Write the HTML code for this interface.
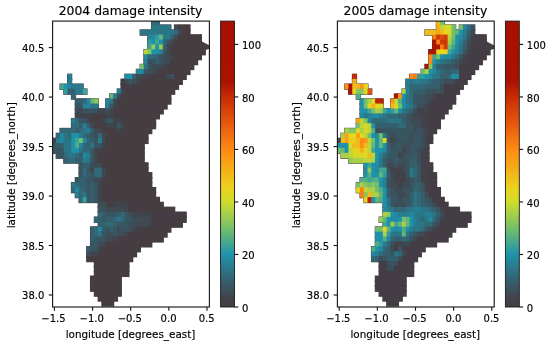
<!DOCTYPE html>
<html><head><meta charset="utf-8"><title>damage intensity</title>
<style>
html,body{margin:0;padding:0;background:#fff;}
body{width:550px;height:345px;overflow:hidden;}
svg{display:block;}
text{font-family:"DejaVu Sans","Liberation Sans",sans-serif;fill:#000;stroke:#000;stroke-width:0.16px;}
.tk{font-size:10px;}
.lb{font-size:10.4px;}
.tt{font-size:12.4px;}
</style></head><body>
<svg width="550" height="345" viewBox="0 0 550 345">
<defs>
<linearGradient id="cb" x1="0" y1="1" x2="0" y2="0"><stop offset="0.0000" stop-color="#453d42"/><stop offset="0.0275" stop-color="#434148"/><stop offset="0.0917" stop-color="#355f6d"/><stop offset="0.1835" stop-color="#1f93ab"/><stop offset="0.2752" stop-color="#74bf6c"/><stop offset="0.3670" stop-color="#cfdc2c"/><stop offset="0.4128" stop-color="#ead41e"/><stop offset="0.5505" stop-color="#ff8a12"/><stop offset="0.6422" stop-color="#e6580e"/><stop offset="0.7339" stop-color="#c82c04"/><stop offset="0.7890" stop-color="#aa1200"/><stop offset="1.0000" stop-color="#a61000"/></linearGradient>
<filter id="bl" x="-5%" y="-5%" width="110%" height="110%"><feGaussianBlur stdDeviation="0.6"/></filter>
</defs>
<rect width="550" height="345" fill="#fff"/>
<clipPath id="clip1"><rect x="52.60" y="21.10" width="156.80" height="285.90"/></clipPath>
<g clip-path="url(#clip1)" filter="url(#bl)">
<rect x="150.99" y="19.45" width="9.03" height="6.42" fill="#453d42"/>
<rect x="150.99" y="24.38" width="20.47" height="6.42" fill="#453d42"/>
<rect x="173.88" y="24.38" width="16.66" height="6.42" fill="#453d42"/>
<rect x="139.55" y="29.30" width="50.99" height="6.42" fill="#453d42"/>
<rect x="147.18" y="34.22" width="54.81" height="6.42" fill="#453d42"/>
<rect x="147.18" y="39.15" width="54.81" height="6.42" fill="#453d42"/>
<rect x="147.18" y="44.07" width="54.81" height="6.42" fill="#453d42"/>
<rect x="143.36" y="49.00" width="62.44" height="6.42" fill="#453d42"/>
<rect x="143.36" y="53.92" width="58.62" height="6.42" fill="#453d42"/>
<rect x="143.36" y="58.85" width="54.81" height="6.42" fill="#453d42"/>
<rect x="139.55" y="63.77" width="54.81" height="6.42" fill="#453d42"/>
<rect x="135.73" y="68.70" width="54.81" height="6.42" fill="#453d42"/>
<rect x="67.06" y="73.62" width="5.21" height="6.42" fill="#453d42"/>
<rect x="124.28" y="73.62" width="62.44" height="6.42" fill="#453d42"/>
<rect x="67.06" y="78.55" width="5.21" height="6.42" fill="#453d42"/>
<rect x="120.47" y="78.55" width="62.44" height="6.42" fill="#453d42"/>
<rect x="59.43" y="83.47" width="24.29" height="6.42" fill="#453d42"/>
<rect x="120.47" y="83.47" width="58.62" height="6.42" fill="#453d42"/>
<rect x="63.24" y="88.40" width="24.29" height="6.42" fill="#453d42"/>
<rect x="116.66" y="88.40" width="58.62" height="6.42" fill="#453d42"/>
<rect x="70.88" y="93.33" width="5.21" height="6.42" fill="#453d42"/>
<rect x="109.02" y="93.33" width="62.44" height="6.42" fill="#453d42"/>
<rect x="74.69" y="98.25" width="24.29" height="6.42" fill="#453d42"/>
<rect x="105.21" y="98.25" width="66.26" height="6.42" fill="#453d42"/>
<rect x="74.69" y="103.17" width="24.29" height="6.42" fill="#453d42"/>
<rect x="105.21" y="103.17" width="62.44" height="6.42" fill="#453d42"/>
<rect x="74.69" y="108.10" width="89.15" height="6.42" fill="#453d42"/>
<rect x="74.69" y="113.02" width="85.33" height="6.42" fill="#453d42"/>
<rect x="70.88" y="117.95" width="85.33" height="6.42" fill="#453d42"/>
<rect x="70.88" y="122.87" width="85.33" height="6.42" fill="#453d42"/>
<rect x="59.43" y="127.80" width="92.96" height="6.42" fill="#453d42"/>
<rect x="55.61" y="132.72" width="92.96" height="6.42" fill="#453d42"/>
<rect x="51.80" y="137.65" width="96.78" height="6.42" fill="#453d42"/>
<rect x="51.80" y="142.58" width="92.96" height="6.42" fill="#453d42"/>
<rect x="51.80" y="147.50" width="92.96" height="6.42" fill="#453d42"/>
<rect x="55.61" y="152.43" width="89.15" height="6.42" fill="#453d42"/>
<rect x="63.24" y="157.35" width="81.52" height="6.42" fill="#453d42"/>
<rect x="78.50" y="162.28" width="70.07" height="6.42" fill="#453d42"/>
<rect x="78.50" y="167.20" width="70.07" height="6.42" fill="#453d42"/>
<rect x="78.50" y="172.12" width="73.89" height="6.42" fill="#453d42"/>
<rect x="74.69" y="177.05" width="77.70" height="6.42" fill="#453d42"/>
<rect x="70.88" y="181.98" width="81.52" height="6.42" fill="#453d42"/>
<rect x="70.88" y="186.90" width="85.33" height="6.42" fill="#453d42"/>
<rect x="74.69" y="191.83" width="81.52" height="6.42" fill="#453d42"/>
<rect x="78.50" y="196.75" width="81.52" height="6.42" fill="#453d42"/>
<rect x="97.58" y="201.68" width="66.26" height="6.42" fill="#453d42"/>
<rect x="97.58" y="206.60" width="77.70" height="6.42" fill="#453d42"/>
<rect x="97.58" y="211.53" width="89.15" height="6.42" fill="#453d42"/>
<rect x="93.77" y="216.45" width="92.96" height="6.42" fill="#453d42"/>
<rect x="97.58" y="221.38" width="85.33" height="6.42" fill="#453d42"/>
<rect x="89.95" y="226.30" width="81.52" height="6.42" fill="#453d42"/>
<rect x="89.95" y="231.23" width="77.70" height="6.42" fill="#453d42"/>
<rect x="89.95" y="236.15" width="73.89" height="6.42" fill="#453d42"/>
<rect x="89.95" y="241.08" width="62.44" height="6.42" fill="#453d42"/>
<rect x="86.14" y="246.00" width="54.81" height="6.42" fill="#453d42"/>
<rect x="86.14" y="250.93" width="50.99" height="6.42" fill="#453d42"/>
<rect x="86.14" y="255.85" width="47.18" height="6.42" fill="#453d42"/>
<rect x="93.77" y="260.77" width="35.73" height="6.42" fill="#453d42"/>
<rect x="93.77" y="265.70" width="35.73" height="6.42" fill="#453d42"/>
<rect x="93.77" y="270.62" width="35.73" height="6.42" fill="#453d42"/>
<rect x="89.95" y="275.55" width="31.92" height="6.42" fill="#453d42"/>
<rect x="89.95" y="280.47" width="31.92" height="6.42" fill="#453d42"/>
<rect x="89.95" y="285.40" width="31.92" height="6.42" fill="#453d42"/>
<rect x="93.77" y="290.32" width="28.10" height="6.42" fill="#453d42"/>
<rect x="97.58" y="295.25" width="20.47" height="6.42" fill="#453d42"/>
<rect x="101.39" y="300.17" width="12.85" height="6.42" fill="#453d42"/>
<polygon points="201.00,41.0 209.60,45.4 209.60,48.8 205.10,50.2 201.00,50.2" fill="#453d42"/>
<rect x="151.39" y="19.85" width="8.23" height="5.52" fill="#316979"/>
<rect x="151.39" y="24.77" width="19.68" height="5.52" fill="#2c7486"/>
<rect x="174.28" y="24.77" width="4.42" height="5.52" fill="#3f4a53"/>
<rect x="178.09" y="24.77" width="12.04" height="5.52" fill="#453d42"/>
<rect x="139.94" y="29.70" width="34.94" height="5.52" fill="#2c7486"/>
<rect x="174.28" y="29.70" width="4.42" height="5.52" fill="#316979"/>
<rect x="178.09" y="29.70" width="4.42" height="5.52" fill="#3f4a53"/>
<rect x="181.91" y="29.70" width="8.23" height="5.52" fill="#453d42"/>
<rect x="147.57" y="34.62" width="4.42" height="5.52" fill="#268398"/>
<rect x="151.39" y="34.62" width="4.42" height="5.52" fill="#23899f"/>
<rect x="155.20" y="34.62" width="4.42" height="5.52" fill="#309c9e"/>
<rect x="159.02" y="34.62" width="4.42" height="5.52" fill="#63b679"/>
<rect x="162.83" y="34.62" width="8.23" height="5.52" fill="#2a798c"/>
<rect x="170.46" y="34.62" width="4.42" height="5.52" fill="#355f6d"/>
<rect x="174.28" y="34.62" width="4.42" height="5.52" fill="#3f4a53"/>
<rect x="178.09" y="34.62" width="23.49" height="5.52" fill="#453d42"/>
<rect x="147.57" y="39.55" width="4.42" height="5.52" fill="#309c9e"/>
<rect x="151.39" y="39.55" width="4.42" height="5.52" fill="#1f93ab"/>
<rect x="155.20" y="39.55" width="4.42" height="5.52" fill="#41a592"/>
<rect x="159.02" y="39.55" width="4.42" height="5.52" fill="#1f93ab"/>
<rect x="162.83" y="39.55" width="4.42" height="5.52" fill="#316979"/>
<rect x="166.65" y="39.55" width="4.42" height="5.52" fill="#395662"/>
<rect x="170.46" y="39.55" width="4.42" height="5.52" fill="#3f4a53"/>
<rect x="174.28" y="39.55" width="27.30" height="5.52" fill="#453d42"/>
<rect x="147.57" y="44.48" width="4.42" height="5.52" fill="#41a592"/>
<rect x="151.39" y="44.48" width="4.42" height="5.52" fill="#98cb52"/>
<rect x="155.20" y="44.48" width="4.42" height="5.52" fill="#1f93ab"/>
<rect x="159.02" y="44.48" width="4.42" height="5.52" fill="#98cb52"/>
<rect x="162.83" y="44.48" width="4.42" height="5.52" fill="#355f6d"/>
<rect x="166.65" y="44.48" width="4.42" height="5.52" fill="#3f4a53"/>
<rect x="170.46" y="44.48" width="31.12" height="5.52" fill="#453d42"/>
<rect x="143.76" y="49.40" width="4.42" height="5.52" fill="#bdd639"/>
<rect x="147.57" y="49.40" width="4.42" height="5.52" fill="#86c55f"/>
<rect x="151.39" y="49.40" width="8.23" height="5.52" fill="#1f93ab"/>
<rect x="159.02" y="49.40" width="4.42" height="5.52" fill="#287e92"/>
<rect x="162.83" y="49.40" width="4.42" height="5.52" fill="#395662"/>
<rect x="166.65" y="49.40" width="4.42" height="5.52" fill="#41454d"/>
<rect x="170.46" y="49.40" width="34.94" height="5.52" fill="#453d42"/>
<rect x="143.76" y="54.33" width="4.42" height="5.52" fill="#23899f"/>
<rect x="147.57" y="54.33" width="8.23" height="5.52" fill="#316979"/>
<rect x="155.20" y="54.33" width="4.42" height="5.52" fill="#355f6d"/>
<rect x="159.02" y="54.33" width="4.42" height="5.52" fill="#395662"/>
<rect x="162.83" y="54.33" width="4.42" height="5.52" fill="#3d4e58"/>
<rect x="166.65" y="54.33" width="4.42" height="5.52" fill="#3f4a53"/>
<rect x="170.46" y="54.33" width="4.42" height="5.52" fill="#41454d"/>
<rect x="174.28" y="54.33" width="27.30" height="5.52" fill="#453d42"/>
<rect x="143.76" y="59.25" width="4.42" height="5.52" fill="#268398"/>
<rect x="147.57" y="59.25" width="4.42" height="5.52" fill="#3d4e58"/>
<rect x="151.39" y="59.25" width="4.42" height="5.52" fill="#395662"/>
<rect x="155.20" y="59.25" width="4.42" height="5.52" fill="#355f6d"/>
<rect x="159.02" y="59.25" width="4.42" height="5.52" fill="#395662"/>
<rect x="162.83" y="59.25" width="4.42" height="5.52" fill="#3d4e58"/>
<rect x="166.65" y="59.25" width="4.42" height="5.52" fill="#3f4a53"/>
<rect x="170.46" y="59.25" width="27.30" height="5.52" fill="#453d42"/>
<rect x="139.94" y="64.17" width="4.42" height="5.52" fill="#74bf6c"/>
<rect x="143.76" y="64.17" width="4.42" height="5.52" fill="#2c7486"/>
<rect x="147.57" y="64.17" width="4.42" height="5.52" fill="#395662"/>
<rect x="151.39" y="64.17" width="8.23" height="5.52" fill="#3d4e58"/>
<rect x="159.02" y="64.17" width="4.42" height="5.52" fill="#3f4a53"/>
<rect x="162.83" y="64.17" width="4.42" height="5.52" fill="#41454d"/>
<rect x="166.65" y="64.17" width="27.30" height="5.52" fill="#453d42"/>
<rect x="136.13" y="69.10" width="8.23" height="5.52" fill="#23899f"/>
<rect x="143.76" y="69.10" width="4.42" height="5.52" fill="#395662"/>
<rect x="147.57" y="69.10" width="4.42" height="5.52" fill="#3d4e58"/>
<rect x="151.39" y="69.10" width="4.42" height="5.52" fill="#3f4a53"/>
<rect x="155.20" y="69.10" width="4.42" height="5.52" fill="#41454d"/>
<rect x="159.02" y="69.10" width="31.12" height="5.52" fill="#453d42"/>
<rect x="67.46" y="74.02" width="4.42" height="5.52" fill="#287e92"/>
<rect x="124.69" y="74.02" width="8.23" height="5.52" fill="#1f93ab"/>
<rect x="132.31" y="74.02" width="4.42" height="5.52" fill="#355f6d"/>
<rect x="136.13" y="74.02" width="4.42" height="5.52" fill="#3d4e58"/>
<rect x="139.94" y="74.02" width="4.42" height="5.52" fill="#3f4a53"/>
<rect x="143.76" y="74.02" width="4.42" height="5.52" fill="#41454d"/>
<rect x="147.57" y="74.02" width="19.68" height="5.52" fill="#453d42"/>
<rect x="166.65" y="74.02" width="4.42" height="5.52" fill="#3d4e58"/>
<rect x="170.46" y="74.02" width="4.42" height="5.52" fill="#3b525d"/>
<rect x="174.28" y="74.02" width="12.04" height="5.52" fill="#453d42"/>
<rect x="67.46" y="78.95" width="4.42" height="5.52" fill="#287e92"/>
<rect x="120.87" y="78.95" width="4.42" height="5.52" fill="#453d42"/>
<rect x="124.69" y="78.95" width="4.42" height="5.52" fill="#3d4e58"/>
<rect x="128.50" y="78.95" width="4.42" height="5.52" fill="#395662"/>
<rect x="132.31" y="78.95" width="4.42" height="5.52" fill="#3d4e58"/>
<rect x="136.13" y="78.95" width="4.42" height="5.52" fill="#41454d"/>
<rect x="139.94" y="78.95" width="42.56" height="5.52" fill="#453d42"/>
<rect x="59.83" y="83.87" width="4.42" height="5.52" fill="#41a592"/>
<rect x="63.65" y="83.87" width="4.42" height="5.52" fill="#1f93ab"/>
<rect x="67.46" y="83.87" width="4.42" height="5.52" fill="#268398"/>
<rect x="71.28" y="83.87" width="12.04" height="5.52" fill="#2a798c"/>
<rect x="120.87" y="83.87" width="8.23" height="5.52" fill="#453d42"/>
<rect x="128.50" y="83.87" width="4.42" height="5.52" fill="#41454d"/>
<rect x="132.31" y="83.87" width="46.38" height="5.52" fill="#453d42"/>
<rect x="63.65" y="88.80" width="4.42" height="5.52" fill="#309c9e"/>
<rect x="67.46" y="88.80" width="8.23" height="5.52" fill="#355f6d"/>
<rect x="75.09" y="88.80" width="8.23" height="5.52" fill="#2a798c"/>
<rect x="82.72" y="88.80" width="4.42" height="5.52" fill="#41a592"/>
<rect x="117.06" y="88.80" width="4.42" height="5.52" fill="#287e92"/>
<rect x="120.87" y="88.80" width="4.42" height="5.52" fill="#3f4a53"/>
<rect x="124.69" y="88.80" width="50.20" height="5.52" fill="#453d42"/>
<rect x="71.28" y="93.73" width="4.42" height="5.52" fill="#316979"/>
<rect x="109.42" y="93.73" width="4.42" height="5.52" fill="#63b679"/>
<rect x="113.24" y="93.73" width="4.42" height="5.52" fill="#2a798c"/>
<rect x="117.06" y="93.73" width="4.42" height="5.52" fill="#3f4a53"/>
<rect x="120.87" y="93.73" width="50.20" height="5.52" fill="#453d42"/>
<rect x="75.09" y="98.65" width="8.23" height="5.52" fill="#355f6d"/>
<rect x="82.72" y="98.65" width="4.42" height="5.52" fill="#316979"/>
<rect x="86.54" y="98.65" width="4.42" height="5.52" fill="#23899f"/>
<rect x="90.35" y="98.65" width="4.42" height="5.52" fill="#63b679"/>
<rect x="94.17" y="98.65" width="4.42" height="5.52" fill="#8fc859"/>
<rect x="105.61" y="98.65" width="4.42" height="5.52" fill="#268398"/>
<rect x="109.42" y="98.65" width="4.42" height="5.52" fill="#2c7486"/>
<rect x="113.24" y="98.65" width="4.42" height="5.52" fill="#3f4a53"/>
<rect x="117.06" y="98.65" width="54.01" height="5.52" fill="#453d42"/>
<rect x="75.09" y="103.58" width="8.23" height="5.52" fill="#395662"/>
<rect x="82.72" y="103.58" width="8.23" height="5.52" fill="#268398"/>
<rect x="90.35" y="103.58" width="8.23" height="5.52" fill="#2c7486"/>
<rect x="105.61" y="103.58" width="4.42" height="5.52" fill="#287e92"/>
<rect x="109.42" y="103.58" width="4.42" height="5.52" fill="#395662"/>
<rect x="113.24" y="103.58" width="4.42" height="5.52" fill="#41454d"/>
<rect x="117.06" y="103.58" width="50.20" height="5.52" fill="#453d42"/>
<rect x="75.09" y="108.50" width="8.23" height="5.52" fill="#3f4a53"/>
<rect x="82.72" y="108.50" width="15.86" height="5.52" fill="#3b525d"/>
<rect x="97.98" y="108.50" width="8.23" height="5.52" fill="#41454d"/>
<rect x="105.61" y="108.50" width="4.42" height="5.52" fill="#3f4a53"/>
<rect x="109.42" y="108.50" width="4.42" height="5.52" fill="#41454d"/>
<rect x="113.24" y="108.50" width="50.20" height="5.52" fill="#453d42"/>
<rect x="75.09" y="113.42" width="19.68" height="5.52" fill="#434148"/>
<rect x="94.17" y="113.42" width="12.04" height="5.52" fill="#453d42"/>
<rect x="105.61" y="113.42" width="8.23" height="5.52" fill="#41454d"/>
<rect x="113.24" y="113.42" width="46.38" height="5.52" fill="#453d42"/>
<rect x="71.28" y="118.35" width="4.42" height="5.52" fill="#287e92"/>
<rect x="75.09" y="118.35" width="4.42" height="5.52" fill="#316979"/>
<rect x="78.91" y="118.35" width="8.23" height="5.52" fill="#395662"/>
<rect x="86.54" y="118.35" width="4.42" height="5.52" fill="#3f4a53"/>
<rect x="90.35" y="118.35" width="12.04" height="5.52" fill="#453d42"/>
<rect x="101.80" y="118.35" width="4.42" height="5.52" fill="#41454d"/>
<rect x="105.61" y="118.35" width="8.23" height="5.52" fill="#395662"/>
<rect x="113.24" y="118.35" width="8.23" height="5.52" fill="#41454d"/>
<rect x="120.87" y="118.35" width="34.94" height="5.52" fill="#453d42"/>
<rect x="71.28" y="123.27" width="8.23" height="5.52" fill="#316979"/>
<rect x="78.91" y="123.27" width="4.42" height="5.52" fill="#355f6d"/>
<rect x="82.72" y="123.27" width="4.42" height="5.52" fill="#287e92"/>
<rect x="86.54" y="123.27" width="4.42" height="5.52" fill="#355f6d"/>
<rect x="90.35" y="123.27" width="4.42" height="5.52" fill="#3f4a53"/>
<rect x="94.17" y="123.27" width="12.04" height="5.52" fill="#453d42"/>
<rect x="105.61" y="123.27" width="12.04" height="5.52" fill="#41454d"/>
<rect x="117.06" y="123.27" width="4.42" height="5.52" fill="#395662"/>
<rect x="120.87" y="123.27" width="4.42" height="5.52" fill="#41454d"/>
<rect x="124.69" y="123.27" width="31.12" height="5.52" fill="#453d42"/>
<rect x="59.83" y="128.20" width="15.86" height="5.52" fill="#316979"/>
<rect x="75.09" y="128.20" width="4.42" height="5.52" fill="#355f6d"/>
<rect x="78.91" y="128.20" width="4.42" height="5.52" fill="#316979"/>
<rect x="82.72" y="128.20" width="4.42" height="5.52" fill="#2c7486"/>
<rect x="86.54" y="128.20" width="4.42" height="5.52" fill="#287e92"/>
<rect x="90.35" y="128.20" width="4.42" height="5.52" fill="#355f6d"/>
<rect x="94.17" y="128.20" width="8.23" height="5.52" fill="#3f4a53"/>
<rect x="101.80" y="128.20" width="15.86" height="5.52" fill="#453d42"/>
<rect x="117.06" y="128.20" width="4.42" height="5.52" fill="#41454d"/>
<rect x="120.87" y="128.20" width="31.12" height="5.52" fill="#453d42"/>
<rect x="56.02" y="133.12" width="4.42" height="5.52" fill="#316979"/>
<rect x="59.83" y="133.12" width="4.42" height="5.52" fill="#23899f"/>
<rect x="63.65" y="133.12" width="4.42" height="5.52" fill="#2c7486"/>
<rect x="67.46" y="133.12" width="4.42" height="5.52" fill="#316979"/>
<rect x="71.28" y="133.12" width="8.23" height="5.52" fill="#1f93ab"/>
<rect x="78.91" y="133.12" width="4.42" height="5.52" fill="#287e92"/>
<rect x="82.72" y="133.12" width="4.42" height="5.52" fill="#316979"/>
<rect x="86.54" y="133.12" width="4.42" height="5.52" fill="#355f6d"/>
<rect x="90.35" y="133.12" width="4.42" height="5.52" fill="#395662"/>
<rect x="94.17" y="133.12" width="4.42" height="5.52" fill="#3d4e58"/>
<rect x="97.98" y="133.12" width="4.42" height="5.52" fill="#316979"/>
<rect x="101.80" y="133.12" width="4.42" height="5.52" fill="#3f4a53"/>
<rect x="105.61" y="133.12" width="42.56" height="5.52" fill="#453d42"/>
<rect x="52.20" y="138.05" width="4.42" height="5.52" fill="#41454d"/>
<rect x="56.02" y="138.05" width="4.42" height="5.52" fill="#287e92"/>
<rect x="59.83" y="138.05" width="4.42" height="5.52" fill="#23899f"/>
<rect x="63.65" y="138.05" width="8.23" height="5.52" fill="#2c7486"/>
<rect x="71.28" y="138.05" width="4.42" height="5.52" fill="#1f93ab"/>
<rect x="75.09" y="138.05" width="4.42" height="5.52" fill="#41a592"/>
<rect x="78.91" y="138.05" width="4.42" height="5.52" fill="#74bf6c"/>
<rect x="82.72" y="138.05" width="4.42" height="5.52" fill="#23899f"/>
<rect x="86.54" y="138.05" width="4.42" height="5.52" fill="#316979"/>
<rect x="90.35" y="138.05" width="4.42" height="5.52" fill="#355f6d"/>
<rect x="94.17" y="138.05" width="4.42" height="5.52" fill="#395662"/>
<rect x="97.98" y="138.05" width="4.42" height="5.52" fill="#287e92"/>
<rect x="101.80" y="138.05" width="4.42" height="5.52" fill="#3f4a53"/>
<rect x="105.61" y="138.05" width="42.56" height="5.52" fill="#453d42"/>
<rect x="52.20" y="142.97" width="4.42" height="5.52" fill="#395662"/>
<rect x="56.02" y="142.97" width="8.23" height="5.52" fill="#355f6d"/>
<rect x="63.65" y="142.97" width="8.23" height="5.52" fill="#2c7486"/>
<rect x="71.28" y="142.97" width="4.42" height="5.52" fill="#1f93ab"/>
<rect x="75.09" y="142.97" width="4.42" height="5.52" fill="#52ad85"/>
<rect x="78.91" y="142.97" width="4.42" height="5.52" fill="#23899f"/>
<rect x="82.72" y="142.97" width="4.42" height="5.52" fill="#316979"/>
<rect x="86.54" y="142.97" width="4.42" height="5.52" fill="#355f6d"/>
<rect x="90.35" y="142.97" width="4.42" height="5.52" fill="#2c7486"/>
<rect x="94.17" y="142.97" width="8.23" height="5.52" fill="#395662"/>
<rect x="101.80" y="142.97" width="4.42" height="5.52" fill="#41454d"/>
<rect x="105.61" y="142.97" width="38.75" height="5.52" fill="#453d42"/>
<rect x="52.20" y="147.90" width="12.04" height="5.52" fill="#395662"/>
<rect x="63.65" y="147.90" width="8.23" height="5.52" fill="#2c7486"/>
<rect x="71.28" y="147.90" width="8.23" height="5.52" fill="#1f93ab"/>
<rect x="78.91" y="147.90" width="4.42" height="5.52" fill="#2c7486"/>
<rect x="82.72" y="147.90" width="8.23" height="5.52" fill="#316979"/>
<rect x="90.35" y="147.90" width="4.42" height="5.52" fill="#395662"/>
<rect x="94.17" y="147.90" width="8.23" height="5.52" fill="#41454d"/>
<rect x="101.80" y="147.90" width="42.56" height="5.52" fill="#453d42"/>
<rect x="56.02" y="152.82" width="8.23" height="5.52" fill="#395662"/>
<rect x="63.65" y="152.82" width="4.42" height="5.52" fill="#316979"/>
<rect x="67.46" y="152.82" width="8.23" height="5.52" fill="#2c7486"/>
<rect x="75.09" y="152.82" width="4.42" height="5.52" fill="#316979"/>
<rect x="78.91" y="152.82" width="4.42" height="5.52" fill="#355f6d"/>
<rect x="82.72" y="152.82" width="4.42" height="5.52" fill="#23899f"/>
<rect x="86.54" y="152.82" width="4.42" height="5.52" fill="#287e92"/>
<rect x="90.35" y="152.82" width="4.42" height="5.52" fill="#395662"/>
<rect x="94.17" y="152.82" width="4.42" height="5.52" fill="#41454d"/>
<rect x="97.98" y="152.82" width="46.38" height="5.52" fill="#453d42"/>
<rect x="63.65" y="157.75" width="4.42" height="5.52" fill="#355f6d"/>
<rect x="67.46" y="157.75" width="8.23" height="5.52" fill="#316979"/>
<rect x="75.09" y="157.75" width="8.23" height="5.52" fill="#355f6d"/>
<rect x="82.72" y="157.75" width="4.42" height="5.52" fill="#287e92"/>
<rect x="86.54" y="157.75" width="4.42" height="5.52" fill="#2c7486"/>
<rect x="90.35" y="157.75" width="4.42" height="5.52" fill="#395662"/>
<rect x="94.17" y="157.75" width="4.42" height="5.52" fill="#41454d"/>
<rect x="97.98" y="157.75" width="46.38" height="5.52" fill="#453d42"/>
<rect x="78.91" y="162.67" width="4.42" height="5.52" fill="#395662"/>
<rect x="82.72" y="162.67" width="8.23" height="5.52" fill="#355f6d"/>
<rect x="90.35" y="162.67" width="4.42" height="5.52" fill="#3d4e58"/>
<rect x="94.17" y="162.67" width="8.23" height="5.52" fill="#3f4a53"/>
<rect x="101.80" y="162.67" width="46.38" height="5.52" fill="#453d42"/>
<rect x="78.91" y="167.60" width="4.42" height="5.52" fill="#395662"/>
<rect x="82.72" y="167.60" width="4.42" height="5.52" fill="#316979"/>
<rect x="86.54" y="167.60" width="4.42" height="5.52" fill="#395662"/>
<rect x="90.35" y="167.60" width="4.42" height="5.52" fill="#41454d"/>
<rect x="94.17" y="167.60" width="8.23" height="5.52" fill="#316979"/>
<rect x="101.80" y="167.60" width="4.42" height="5.52" fill="#3f4a53"/>
<rect x="105.61" y="167.60" width="42.56" height="5.52" fill="#453d42"/>
<rect x="78.91" y="172.52" width="4.42" height="5.52" fill="#395662"/>
<rect x="82.72" y="172.52" width="4.42" height="5.52" fill="#316979"/>
<rect x="86.54" y="172.52" width="4.42" height="5.52" fill="#355f6d"/>
<rect x="90.35" y="172.52" width="4.42" height="5.52" fill="#395662"/>
<rect x="94.17" y="172.52" width="8.23" height="5.52" fill="#316979"/>
<rect x="101.80" y="172.52" width="4.42" height="5.52" fill="#3f4a53"/>
<rect x="105.61" y="172.52" width="46.38" height="5.52" fill="#453d42"/>
<rect x="75.09" y="177.45" width="4.42" height="5.52" fill="#395662"/>
<rect x="78.91" y="177.45" width="8.23" height="5.52" fill="#355f6d"/>
<rect x="86.54" y="177.45" width="8.23" height="5.52" fill="#395662"/>
<rect x="94.17" y="177.45" width="8.23" height="5.52" fill="#3f4a53"/>
<rect x="101.80" y="177.45" width="50.20" height="5.52" fill="#453d42"/>
<rect x="71.28" y="182.38" width="4.42" height="5.52" fill="#2c7486"/>
<rect x="75.09" y="182.38" width="4.42" height="5.52" fill="#316979"/>
<rect x="78.91" y="182.38" width="8.23" height="5.52" fill="#355f6d"/>
<rect x="86.54" y="182.38" width="4.42" height="5.52" fill="#395662"/>
<rect x="90.35" y="182.38" width="4.42" height="5.52" fill="#355f6d"/>
<rect x="94.17" y="182.38" width="4.42" height="5.52" fill="#395662"/>
<rect x="97.98" y="182.38" width="4.42" height="5.52" fill="#41454d"/>
<rect x="101.80" y="182.38" width="50.20" height="5.52" fill="#453d42"/>
<rect x="71.28" y="187.30" width="4.42" height="5.52" fill="#316979"/>
<rect x="75.09" y="187.30" width="4.42" height="5.52" fill="#23899f"/>
<rect x="78.91" y="187.30" width="4.42" height="5.52" fill="#316979"/>
<rect x="82.72" y="187.30" width="4.42" height="5.52" fill="#355f6d"/>
<rect x="86.54" y="187.30" width="4.42" height="5.52" fill="#395662"/>
<rect x="90.35" y="187.30" width="4.42" height="5.52" fill="#355f6d"/>
<rect x="94.17" y="187.30" width="4.42" height="5.52" fill="#395662"/>
<rect x="97.98" y="187.30" width="4.42" height="5.52" fill="#41454d"/>
<rect x="101.80" y="187.30" width="54.01" height="5.52" fill="#453d42"/>
<rect x="75.09" y="192.22" width="4.42" height="5.52" fill="#287e92"/>
<rect x="78.91" y="192.22" width="4.42" height="5.52" fill="#316979"/>
<rect x="82.72" y="192.22" width="4.42" height="5.52" fill="#2c7486"/>
<rect x="86.54" y="192.22" width="4.42" height="5.52" fill="#395662"/>
<rect x="90.35" y="192.22" width="4.42" height="5.52" fill="#355f6d"/>
<rect x="94.17" y="192.22" width="4.42" height="5.52" fill="#395662"/>
<rect x="97.98" y="192.22" width="4.42" height="5.52" fill="#41454d"/>
<rect x="101.80" y="192.22" width="54.01" height="5.52" fill="#453d42"/>
<rect x="78.91" y="197.15" width="4.42" height="5.52" fill="#316979"/>
<rect x="82.72" y="197.15" width="4.42" height="5.52" fill="#38a098"/>
<rect x="86.54" y="197.15" width="4.42" height="5.52" fill="#395662"/>
<rect x="90.35" y="197.15" width="4.42" height="5.52" fill="#355f6d"/>
<rect x="94.17" y="197.15" width="4.42" height="5.52" fill="#395662"/>
<rect x="97.98" y="197.15" width="4.42" height="5.52" fill="#41454d"/>
<rect x="101.80" y="197.15" width="57.83" height="5.52" fill="#453d42"/>
<rect x="97.98" y="202.07" width="8.23" height="5.52" fill="#3d4e58"/>
<rect x="105.61" y="202.07" width="8.23" height="5.52" fill="#453d42"/>
<rect x="113.24" y="202.07" width="15.86" height="5.52" fill="#41454d"/>
<rect x="128.50" y="202.07" width="34.94" height="5.52" fill="#453d42"/>
<rect x="97.98" y="207.00" width="8.23" height="5.52" fill="#3b525d"/>
<rect x="105.61" y="207.00" width="4.42" height="5.52" fill="#3d4e58"/>
<rect x="109.42" y="207.00" width="15.86" height="5.52" fill="#3f4a53"/>
<rect x="124.69" y="207.00" width="4.42" height="5.52" fill="#41454d"/>
<rect x="128.50" y="207.00" width="46.38" height="5.52" fill="#453d42"/>
<rect x="97.98" y="211.92" width="4.42" height="5.52" fill="#316979"/>
<rect x="101.80" y="211.92" width="4.42" height="5.52" fill="#355f6d"/>
<rect x="105.61" y="211.92" width="12.04" height="5.52" fill="#395662"/>
<rect x="117.06" y="211.92" width="4.42" height="5.52" fill="#355f6d"/>
<rect x="120.87" y="211.92" width="4.42" height="5.52" fill="#316979"/>
<rect x="124.69" y="211.92" width="4.42" height="5.52" fill="#395662"/>
<rect x="128.50" y="211.92" width="4.42" height="5.52" fill="#3d4e58"/>
<rect x="132.31" y="211.92" width="19.68" height="5.52" fill="#41454d"/>
<rect x="151.39" y="211.92" width="34.94" height="5.52" fill="#443e44"/>
<rect x="94.17" y="216.85" width="4.42" height="5.52" fill="#316979"/>
<rect x="97.98" y="216.85" width="4.42" height="5.52" fill="#355f6d"/>
<rect x="101.80" y="216.85" width="4.42" height="5.52" fill="#395662"/>
<rect x="105.61" y="216.85" width="8.23" height="5.52" fill="#355f6d"/>
<rect x="113.24" y="216.85" width="4.42" height="5.52" fill="#316979"/>
<rect x="117.06" y="216.85" width="4.42" height="5.52" fill="#2c7486"/>
<rect x="120.87" y="216.85" width="4.42" height="5.52" fill="#316979"/>
<rect x="124.69" y="216.85" width="8.23" height="5.52" fill="#395662"/>
<rect x="132.31" y="216.85" width="8.23" height="5.52" fill="#3d4e58"/>
<rect x="139.94" y="216.85" width="12.04" height="5.52" fill="#3f4a53"/>
<rect x="151.39" y="216.85" width="34.94" height="5.52" fill="#453d42"/>
<rect x="97.98" y="221.77" width="8.23" height="5.52" fill="#355f6d"/>
<rect x="105.61" y="221.77" width="8.23" height="5.52" fill="#316979"/>
<rect x="113.24" y="221.77" width="4.42" height="5.52" fill="#355f6d"/>
<rect x="117.06" y="221.77" width="12.04" height="5.52" fill="#395662"/>
<rect x="128.50" y="221.77" width="8.23" height="5.52" fill="#3d4e58"/>
<rect x="136.13" y="221.77" width="12.04" height="5.52" fill="#3f4a53"/>
<rect x="147.57" y="221.77" width="4.42" height="5.52" fill="#41454d"/>
<rect x="151.39" y="221.77" width="31.12" height="5.52" fill="#453d42"/>
<rect x="90.35" y="226.70" width="4.42" height="5.52" fill="#355f6d"/>
<rect x="94.17" y="226.70" width="4.42" height="5.52" fill="#316979"/>
<rect x="97.98" y="226.70" width="4.42" height="5.52" fill="#23899f"/>
<rect x="101.80" y="226.70" width="4.42" height="5.52" fill="#355f6d"/>
<rect x="105.61" y="226.70" width="4.42" height="5.52" fill="#395662"/>
<rect x="109.42" y="226.70" width="4.42" height="5.52" fill="#355f6d"/>
<rect x="113.24" y="226.70" width="4.42" height="5.52" fill="#395662"/>
<rect x="117.06" y="226.70" width="4.42" height="5.52" fill="#3d4e58"/>
<rect x="120.87" y="226.70" width="8.23" height="5.52" fill="#395662"/>
<rect x="128.50" y="226.70" width="4.42" height="5.52" fill="#3d4e58"/>
<rect x="132.31" y="226.70" width="4.42" height="5.52" fill="#41454d"/>
<rect x="136.13" y="226.70" width="34.94" height="5.52" fill="#453d42"/>
<rect x="90.35" y="231.62" width="4.42" height="5.52" fill="#355f6d"/>
<rect x="94.17" y="231.62" width="4.42" height="5.52" fill="#316979"/>
<rect x="97.98" y="231.62" width="4.42" height="5.52" fill="#2c7486"/>
<rect x="101.80" y="231.62" width="4.42" height="5.52" fill="#395662"/>
<rect x="105.61" y="231.62" width="8.23" height="5.52" fill="#3d4e58"/>
<rect x="113.24" y="231.62" width="4.42" height="5.52" fill="#395662"/>
<rect x="117.06" y="231.62" width="8.23" height="5.52" fill="#3d4e58"/>
<rect x="124.69" y="231.62" width="4.42" height="5.52" fill="#41454d"/>
<rect x="128.50" y="231.62" width="38.75" height="5.52" fill="#453d42"/>
<rect x="90.35" y="236.55" width="4.42" height="5.52" fill="#355f6d"/>
<rect x="94.17" y="236.55" width="12.04" height="5.52" fill="#395662"/>
<rect x="105.61" y="236.55" width="8.23" height="5.52" fill="#3f4a53"/>
<rect x="113.24" y="236.55" width="4.42" height="5.52" fill="#41454d"/>
<rect x="117.06" y="236.55" width="46.38" height="5.52" fill="#453d42"/>
<rect x="90.35" y="241.47" width="8.23" height="5.52" fill="#395662"/>
<rect x="97.98" y="241.47" width="4.42" height="5.52" fill="#3d4e58"/>
<rect x="101.80" y="241.47" width="4.42" height="5.52" fill="#3f4a53"/>
<rect x="105.61" y="241.47" width="46.38" height="5.52" fill="#453d42"/>
<rect x="86.54" y="246.40" width="4.42" height="5.52" fill="#355f6d"/>
<rect x="90.35" y="246.40" width="8.23" height="5.52" fill="#395662"/>
<rect x="97.98" y="246.40" width="4.42" height="5.52" fill="#41454d"/>
<rect x="101.80" y="246.40" width="38.75" height="5.52" fill="#453d42"/>
<rect x="86.54" y="251.32" width="4.42" height="5.52" fill="#3d4e58"/>
<rect x="90.35" y="251.32" width="8.23" height="5.52" fill="#41454d"/>
<rect x="97.98" y="251.32" width="38.75" height="5.52" fill="#453d42"/>
<rect x="86.54" y="256.25" width="46.38" height="5.52" fill="#453d42"/>
<rect x="94.17" y="261.17" width="34.94" height="5.52" fill="#453d42"/>
<rect x="94.17" y="266.10" width="34.94" height="5.52" fill="#453d42"/>
<rect x="94.17" y="271.02" width="34.94" height="5.52" fill="#453d42"/>
<rect x="90.35" y="275.95" width="31.12" height="5.52" fill="#453d42"/>
<rect x="90.35" y="280.87" width="31.12" height="5.52" fill="#453d42"/>
<rect x="90.35" y="285.80" width="31.12" height="5.52" fill="#453d42"/>
<rect x="94.17" y="290.72" width="27.30" height="5.52" fill="#453d42"/>
<rect x="97.98" y="295.65" width="19.68" height="5.52" fill="#453d42"/>
<rect x="101.80" y="300.57" width="12.04" height="5.52" fill="#453d42"/>
</g>
<rect x="52.60" y="21.10" width="156.80" height="285.90" fill="none" stroke="#1a1a1a" stroke-width="1.15"/>
<line x1="54.40" y1="307.00" x2="54.40" y2="310.80" stroke="#1a1a1a" stroke-width="1.15"/>
<text x="53.50" y="322.20" text-anchor="middle" class="tk">−1.5</text>
<line x1="92.55" y1="307.00" x2="92.55" y2="310.80" stroke="#1a1a1a" stroke-width="1.15"/>
<text x="91.65" y="322.20" text-anchor="middle" class="tk">−1.0</text>
<line x1="130.70" y1="307.00" x2="130.70" y2="310.80" stroke="#1a1a1a" stroke-width="1.15"/>
<text x="129.80" y="322.20" text-anchor="middle" class="tk">−0.5</text>
<line x1="168.85" y1="307.00" x2="168.85" y2="310.80" stroke="#1a1a1a" stroke-width="1.15"/>
<text x="168.55" y="322.20" text-anchor="middle" class="tk">0.0</text>
<line x1="207.00" y1="307.00" x2="207.00" y2="310.80" stroke="#1a1a1a" stroke-width="1.15"/>
<text x="206.70" y="322.20" text-anchor="middle" class="tk">0.5</text>
<line x1="48.80" y1="47.60" x2="52.60" y2="47.60" stroke="#1a1a1a" stroke-width="1.15"/>
<text x="44.30" y="51.90" text-anchor="end" class="tk">40.5</text>
<line x1="48.80" y1="97.10" x2="52.60" y2="97.10" stroke="#1a1a1a" stroke-width="1.15"/>
<text x="44.30" y="101.40" text-anchor="end" class="tk">40.0</text>
<line x1="48.80" y1="146.55" x2="52.60" y2="146.55" stroke="#1a1a1a" stroke-width="1.15"/>
<text x="44.30" y="150.85" text-anchor="end" class="tk">39.5</text>
<line x1="48.80" y1="196.05" x2="52.60" y2="196.05" stroke="#1a1a1a" stroke-width="1.15"/>
<text x="44.30" y="200.35" text-anchor="end" class="tk">39.0</text>
<line x1="48.80" y1="245.50" x2="52.60" y2="245.50" stroke="#1a1a1a" stroke-width="1.15"/>
<text x="44.30" y="249.80" text-anchor="end" class="tk">38.5</text>
<line x1="48.80" y1="295.00" x2="52.60" y2="295.00" stroke="#1a1a1a" stroke-width="1.15"/>
<text x="44.30" y="299.30" text-anchor="end" class="tk">38.0</text>
<text x="130.60" y="14.80" text-anchor="middle" class="tt">2004 damage intensity</text>
<text x="130.50" y="337.50" text-anchor="middle" class="lb">longitude [degrees_east]</text>
<text transform="translate(14.90,165.20) rotate(-90)" text-anchor="middle" class="lb">latitude [degrees_north]</text>
<rect x="220.60" y="21.10" width="13.90" height="285.90" fill="url(#cb)" stroke="#1a1a1a" stroke-width="0.9"/>
<line x1="234.50" y1="307.00" x2="238.30" y2="307.00" stroke="#1a1a1a" stroke-width="1.15"/>
<text x="242.00" y="311.80" class="tk">0</text>
<line x1="234.50" y1="254.48" x2="238.30" y2="254.48" stroke="#1a1a1a" stroke-width="1.15"/>
<text x="242.00" y="259.28" class="tk">20</text>
<line x1="234.50" y1="201.96" x2="238.30" y2="201.96" stroke="#1a1a1a" stroke-width="1.15"/>
<text x="242.00" y="206.76" class="tk">40</text>
<line x1="234.50" y1="149.44" x2="238.30" y2="149.44" stroke="#1a1a1a" stroke-width="1.15"/>
<text x="242.00" y="154.24" class="tk">60</text>
<line x1="234.50" y1="96.92" x2="238.30" y2="96.92" stroke="#1a1a1a" stroke-width="1.15"/>
<text x="242.00" y="101.72" class="tk">80</text>
<line x1="234.50" y1="44.40" x2="238.30" y2="44.40" stroke="#1a1a1a" stroke-width="1.15"/>
<text x="242.00" y="49.20" class="tk">100</text>
<clipPath id="clip2"><rect x="337.40" y="21.10" width="156.80" height="285.90"/></clipPath>
<g clip-path="url(#clip2)" filter="url(#bl)">
<rect x="435.79" y="19.45" width="9.03" height="6.42" fill="#453d42"/>
<rect x="435.79" y="24.38" width="20.47" height="6.42" fill="#453d42"/>
<rect x="458.68" y="24.38" width="16.66" height="6.42" fill="#453d42"/>
<rect x="424.35" y="29.30" width="50.99" height="6.42" fill="#453d42"/>
<rect x="431.98" y="34.22" width="54.81" height="6.42" fill="#453d42"/>
<rect x="431.98" y="39.15" width="54.81" height="6.42" fill="#453d42"/>
<rect x="431.98" y="44.07" width="54.81" height="6.42" fill="#453d42"/>
<rect x="428.16" y="49.00" width="62.44" height="6.42" fill="#453d42"/>
<rect x="428.16" y="53.92" width="58.62" height="6.42" fill="#453d42"/>
<rect x="428.16" y="58.85" width="54.81" height="6.42" fill="#453d42"/>
<rect x="424.35" y="63.77" width="54.81" height="6.42" fill="#453d42"/>
<rect x="420.53" y="68.70" width="54.81" height="6.42" fill="#453d42"/>
<rect x="351.86" y="73.62" width="5.21" height="6.42" fill="#453d42"/>
<rect x="409.09" y="73.62" width="62.44" height="6.42" fill="#453d42"/>
<rect x="351.86" y="78.55" width="5.21" height="6.42" fill="#453d42"/>
<rect x="405.27" y="78.55" width="62.44" height="6.42" fill="#453d42"/>
<rect x="344.23" y="83.47" width="24.29" height="6.42" fill="#453d42"/>
<rect x="405.27" y="83.47" width="58.62" height="6.42" fill="#453d42"/>
<rect x="348.05" y="88.40" width="24.29" height="6.42" fill="#453d42"/>
<rect x="401.46" y="88.40" width="58.62" height="6.42" fill="#453d42"/>
<rect x="355.68" y="93.33" width="5.21" height="6.42" fill="#453d42"/>
<rect x="393.83" y="93.33" width="62.44" height="6.42" fill="#453d42"/>
<rect x="359.49" y="98.25" width="24.29" height="6.42" fill="#453d42"/>
<rect x="390.01" y="98.25" width="66.26" height="6.42" fill="#453d42"/>
<rect x="359.49" y="103.17" width="24.29" height="6.42" fill="#453d42"/>
<rect x="390.01" y="103.17" width="62.44" height="6.42" fill="#453d42"/>
<rect x="359.49" y="108.10" width="89.15" height="6.42" fill="#453d42"/>
<rect x="359.49" y="113.02" width="85.33" height="6.42" fill="#453d42"/>
<rect x="355.68" y="117.95" width="85.33" height="6.42" fill="#453d42"/>
<rect x="355.68" y="122.87" width="85.33" height="6.42" fill="#453d42"/>
<rect x="344.23" y="127.80" width="92.96" height="6.42" fill="#453d42"/>
<rect x="340.42" y="132.72" width="92.96" height="6.42" fill="#453d42"/>
<rect x="336.60" y="137.65" width="96.78" height="6.42" fill="#453d42"/>
<rect x="336.60" y="142.58" width="92.96" height="6.42" fill="#453d42"/>
<rect x="336.60" y="147.50" width="92.96" height="6.42" fill="#453d42"/>
<rect x="340.42" y="152.43" width="89.15" height="6.42" fill="#453d42"/>
<rect x="348.05" y="157.35" width="81.52" height="6.42" fill="#453d42"/>
<rect x="363.31" y="162.28" width="70.07" height="6.42" fill="#453d42"/>
<rect x="363.31" y="167.20" width="70.07" height="6.42" fill="#453d42"/>
<rect x="363.31" y="172.12" width="73.89" height="6.42" fill="#453d42"/>
<rect x="359.49" y="177.05" width="77.70" height="6.42" fill="#453d42"/>
<rect x="355.68" y="181.98" width="81.52" height="6.42" fill="#453d42"/>
<rect x="355.68" y="186.90" width="85.33" height="6.42" fill="#453d42"/>
<rect x="359.49" y="191.83" width="81.52" height="6.42" fill="#453d42"/>
<rect x="363.31" y="196.75" width="81.52" height="6.42" fill="#453d42"/>
<rect x="382.38" y="201.68" width="66.26" height="6.42" fill="#453d42"/>
<rect x="382.38" y="206.60" width="77.70" height="6.42" fill="#453d42"/>
<rect x="382.38" y="211.53" width="89.15" height="6.42" fill="#453d42"/>
<rect x="378.56" y="216.45" width="92.96" height="6.42" fill="#453d42"/>
<rect x="382.38" y="221.38" width="85.33" height="6.42" fill="#453d42"/>
<rect x="374.75" y="226.30" width="81.52" height="6.42" fill="#453d42"/>
<rect x="374.75" y="231.23" width="77.70" height="6.42" fill="#453d42"/>
<rect x="374.75" y="236.15" width="73.89" height="6.42" fill="#453d42"/>
<rect x="374.75" y="241.08" width="62.44" height="6.42" fill="#453d42"/>
<rect x="370.94" y="246.00" width="54.81" height="6.42" fill="#453d42"/>
<rect x="370.94" y="250.93" width="50.99" height="6.42" fill="#453d42"/>
<rect x="370.94" y="255.85" width="47.18" height="6.42" fill="#453d42"/>
<rect x="378.56" y="260.77" width="35.73" height="6.42" fill="#453d42"/>
<rect x="378.56" y="265.70" width="35.73" height="6.42" fill="#453d42"/>
<rect x="378.56" y="270.62" width="35.73" height="6.42" fill="#453d42"/>
<rect x="374.75" y="275.55" width="31.92" height="6.42" fill="#453d42"/>
<rect x="374.75" y="280.47" width="31.92" height="6.42" fill="#453d42"/>
<rect x="374.75" y="285.40" width="31.92" height="6.42" fill="#453d42"/>
<rect x="378.56" y="290.32" width="28.10" height="6.42" fill="#453d42"/>
<rect x="382.38" y="295.25" width="20.47" height="6.42" fill="#453d42"/>
<rect x="386.19" y="300.17" width="12.85" height="6.42" fill="#453d42"/>
<polygon points="485.80,41.0 494.40,45.4 494.40,48.8 489.90,50.2 485.80,50.2" fill="#453d42"/>
<rect x="436.19" y="19.85" width="4.42" height="5.52" fill="#f1bb1a"/>
<rect x="440.00" y="19.85" width="4.42" height="5.52" fill="#74bf6c"/>
<rect x="436.19" y="24.77" width="4.42" height="5.52" fill="#f4b118"/>
<rect x="440.00" y="24.77" width="4.42" height="5.52" fill="#bdd639"/>
<rect x="443.82" y="24.77" width="4.42" height="5.52" fill="#dad926"/>
<rect x="447.63" y="24.77" width="4.42" height="5.52" fill="#cfdc2c"/>
<rect x="451.45" y="24.77" width="4.42" height="5.52" fill="#74bf6c"/>
<rect x="459.08" y="24.77" width="4.42" height="5.52" fill="#74bf6c"/>
<rect x="462.89" y="24.77" width="4.42" height="5.52" fill="#23899f"/>
<rect x="466.71" y="24.77" width="4.42" height="5.52" fill="#2e6f80"/>
<rect x="470.53" y="24.77" width="4.42" height="5.52" fill="#3b525d"/>
<rect x="424.75" y="29.70" width="12.04" height="5.52" fill="#f1bb1a"/>
<rect x="436.19" y="29.70" width="4.42" height="5.52" fill="#f8a316"/>
<rect x="440.00" y="29.70" width="4.42" height="5.52" fill="#f1bb1a"/>
<rect x="443.82" y="29.70" width="4.42" height="5.52" fill="#ead41e"/>
<rect x="447.63" y="29.70" width="4.42" height="5.52" fill="#dad926"/>
<rect x="451.45" y="29.70" width="4.42" height="5.52" fill="#74bf6c"/>
<rect x="455.26" y="29.70" width="4.42" height="5.52" fill="#63b679"/>
<rect x="459.08" y="29.70" width="4.42" height="5.52" fill="#1f93ab"/>
<rect x="462.89" y="29.70" width="4.42" height="5.52" fill="#287e92"/>
<rect x="466.71" y="29.70" width="4.42" height="5.52" fill="#355f6d"/>
<rect x="470.53" y="29.70" width="4.42" height="5.52" fill="#3f4a53"/>
<rect x="432.38" y="34.62" width="4.42" height="5.52" fill="#f87b11"/>
<rect x="436.19" y="34.62" width="4.42" height="5.52" fill="#d13907"/>
<rect x="440.00" y="34.62" width="4.42" height="5.52" fill="#dd4b0b"/>
<rect x="443.82" y="34.62" width="4.42" height="5.52" fill="#d43e08"/>
<rect x="447.63" y="34.62" width="4.42" height="5.52" fill="#bdd639"/>
<rect x="451.45" y="34.62" width="4.42" height="5.52" fill="#74bf6c"/>
<rect x="455.26" y="34.62" width="4.42" height="5.52" fill="#1f93ab"/>
<rect x="459.08" y="34.62" width="4.42" height="5.52" fill="#23899f"/>
<rect x="462.89" y="34.62" width="4.42" height="5.52" fill="#2c7486"/>
<rect x="466.71" y="34.62" width="4.42" height="5.52" fill="#395662"/>
<rect x="470.53" y="34.62" width="4.42" height="5.52" fill="#41454d"/>
<rect x="474.34" y="34.62" width="12.04" height="5.52" fill="#443e44"/>
<rect x="432.38" y="39.55" width="4.42" height="5.52" fill="#aa1200"/>
<rect x="436.19" y="39.55" width="4.42" height="5.52" fill="#f87b11"/>
<rect x="440.00" y="39.55" width="4.42" height="5.52" fill="#d13907"/>
<rect x="443.82" y="39.55" width="4.42" height="5.52" fill="#ce3506"/>
<rect x="447.63" y="39.55" width="4.42" height="5.52" fill="#abd046"/>
<rect x="451.45" y="39.55" width="4.42" height="5.52" fill="#63b679"/>
<rect x="455.26" y="39.55" width="4.42" height="5.52" fill="#1f93ab"/>
<rect x="459.08" y="39.55" width="4.42" height="5.52" fill="#287e92"/>
<rect x="462.89" y="39.55" width="4.42" height="5.52" fill="#336473"/>
<rect x="466.71" y="39.55" width="4.42" height="5.52" fill="#3d4e58"/>
<rect x="470.53" y="39.55" width="4.42" height="5.52" fill="#434148"/>
<rect x="474.34" y="39.55" width="12.04" height="5.52" fill="#443e44"/>
<rect x="432.38" y="44.48" width="4.42" height="5.52" fill="#aa1200"/>
<rect x="436.19" y="44.48" width="4.42" height="5.52" fill="#aa1200"/>
<rect x="440.00" y="44.48" width="4.42" height="5.52" fill="#f87b11"/>
<rect x="443.82" y="44.48" width="4.42" height="5.52" fill="#d13907"/>
<rect x="447.63" y="44.48" width="4.42" height="5.52" fill="#74bf6c"/>
<rect x="451.45" y="44.48" width="4.42" height="5.52" fill="#41a592"/>
<rect x="455.26" y="44.48" width="4.42" height="5.52" fill="#23899f"/>
<rect x="459.08" y="44.48" width="4.42" height="5.52" fill="#2c7486"/>
<rect x="462.89" y="44.48" width="4.42" height="5.52" fill="#375b68"/>
<rect x="466.71" y="44.48" width="4.42" height="5.52" fill="#3f4a53"/>
<rect x="470.53" y="44.48" width="4.42" height="5.52" fill="#444046"/>
<rect x="474.34" y="44.48" width="12.04" height="5.52" fill="#443e44"/>
<rect x="428.56" y="49.40" width="8.23" height="5.52" fill="#aa1200"/>
<rect x="436.19" y="49.40" width="12.04" height="5.52" fill="#ead41e"/>
<rect x="447.63" y="49.40" width="4.42" height="5.52" fill="#41a592"/>
<rect x="451.45" y="49.40" width="4.42" height="5.52" fill="#1f93ab"/>
<rect x="455.26" y="49.40" width="4.42" height="5.52" fill="#268398"/>
<rect x="459.08" y="49.40" width="4.42" height="5.52" fill="#2e6f80"/>
<rect x="462.89" y="49.40" width="4.42" height="5.52" fill="#395662"/>
<rect x="466.71" y="49.40" width="4.42" height="5.52" fill="#41454d"/>
<rect x="470.53" y="49.40" width="19.68" height="5.52" fill="#443e44"/>
<rect x="428.56" y="54.33" width="4.42" height="5.52" fill="#ff8a12"/>
<rect x="432.38" y="54.33" width="4.42" height="5.52" fill="#41a592"/>
<rect x="436.19" y="54.33" width="4.42" height="5.52" fill="#74bf6c"/>
<rect x="440.00" y="54.33" width="4.42" height="5.52" fill="#1f93ab"/>
<rect x="443.82" y="54.33" width="8.23" height="5.52" fill="#23899f"/>
<rect x="451.45" y="54.33" width="4.42" height="5.52" fill="#2a798c"/>
<rect x="455.26" y="54.33" width="4.42" height="5.52" fill="#316979"/>
<rect x="459.08" y="54.33" width="4.42" height="5.52" fill="#395662"/>
<rect x="462.89" y="54.33" width="4.42" height="5.52" fill="#41454d"/>
<rect x="466.71" y="54.33" width="19.68" height="5.52" fill="#443e44"/>
<rect x="428.56" y="59.25" width="4.42" height="5.52" fill="#ff8a12"/>
<rect x="432.38" y="59.25" width="4.42" height="5.52" fill="#1f93ab"/>
<rect x="436.19" y="59.25" width="4.42" height="5.52" fill="#287e92"/>
<rect x="440.00" y="59.25" width="4.42" height="5.52" fill="#2c7486"/>
<rect x="443.82" y="59.25" width="8.23" height="5.52" fill="#316979"/>
<rect x="451.45" y="59.25" width="4.42" height="5.52" fill="#375b68"/>
<rect x="455.26" y="59.25" width="4.42" height="5.52" fill="#395662"/>
<rect x="459.08" y="59.25" width="4.42" height="5.52" fill="#3f4a53"/>
<rect x="462.89" y="59.25" width="4.42" height="5.52" fill="#444046"/>
<rect x="466.71" y="59.25" width="15.86" height="5.52" fill="#443e44"/>
<rect x="424.75" y="64.17" width="4.42" height="5.52" fill="#aa1200"/>
<rect x="428.56" y="64.17" width="4.42" height="5.52" fill="#86c55f"/>
<rect x="432.38" y="64.17" width="4.42" height="5.52" fill="#287e92"/>
<rect x="436.19" y="64.17" width="8.23" height="5.52" fill="#355f6d"/>
<rect x="443.82" y="64.17" width="12.04" height="5.52" fill="#395662"/>
<rect x="455.26" y="64.17" width="4.42" height="5.52" fill="#3d4e58"/>
<rect x="459.08" y="64.17" width="19.68" height="5.52" fill="#443e44"/>
<rect x="420.93" y="69.10" width="4.42" height="5.52" fill="#74bf6c"/>
<rect x="424.75" y="69.10" width="4.42" height="5.52" fill="#abd046"/>
<rect x="428.56" y="69.10" width="4.42" height="5.52" fill="#1f93ab"/>
<rect x="432.38" y="69.10" width="4.42" height="5.52" fill="#23899f"/>
<rect x="436.19" y="69.10" width="4.42" height="5.52" fill="#2c7486"/>
<rect x="440.00" y="69.10" width="4.42" height="5.52" fill="#316979"/>
<rect x="443.82" y="69.10" width="8.23" height="5.52" fill="#355f6d"/>
<rect x="451.45" y="69.10" width="8.23" height="5.52" fill="#316979"/>
<rect x="459.08" y="69.10" width="15.86" height="5.52" fill="#443e44"/>
<rect x="352.26" y="74.02" width="4.42" height="5.52" fill="#c82c04"/>
<rect x="409.49" y="74.02" width="4.42" height="5.52" fill="#ff8a12"/>
<rect x="413.30" y="74.02" width="4.42" height="5.52" fill="#fa8011"/>
<rect x="417.12" y="74.02" width="8.23" height="5.52" fill="#309c9e"/>
<rect x="424.75" y="74.02" width="4.42" height="5.52" fill="#1f93ab"/>
<rect x="428.56" y="74.02" width="4.42" height="5.52" fill="#23899f"/>
<rect x="432.38" y="74.02" width="8.23" height="5.52" fill="#2c7486"/>
<rect x="440.00" y="74.02" width="8.23" height="5.52" fill="#355f6d"/>
<rect x="447.63" y="74.02" width="4.42" height="5.52" fill="#316979"/>
<rect x="451.45" y="74.02" width="4.42" height="5.52" fill="#1f93ab"/>
<rect x="455.26" y="74.02" width="4.42" height="5.52" fill="#23899f"/>
<rect x="459.08" y="74.02" width="12.04" height="5.52" fill="#443e44"/>
<rect x="352.26" y="78.95" width="4.42" height="5.52" fill="#f4b118"/>
<rect x="405.67" y="78.95" width="4.42" height="5.52" fill="#287e92"/>
<rect x="409.49" y="78.95" width="4.42" height="5.52" fill="#2c7486"/>
<rect x="413.30" y="78.95" width="8.23" height="5.52" fill="#287e92"/>
<rect x="420.93" y="78.95" width="8.23" height="5.52" fill="#2c7486"/>
<rect x="428.56" y="78.95" width="4.42" height="5.52" fill="#316979"/>
<rect x="432.38" y="78.95" width="8.23" height="5.52" fill="#355f6d"/>
<rect x="440.00" y="78.95" width="4.42" height="5.52" fill="#395662"/>
<rect x="443.82" y="78.95" width="12.04" height="5.52" fill="#3d4e58"/>
<rect x="455.26" y="78.95" width="12.04" height="5.52" fill="#443e44"/>
<rect x="344.63" y="83.87" width="4.42" height="5.52" fill="#fc9414"/>
<rect x="348.44" y="83.87" width="4.42" height="5.52" fill="#a91200"/>
<rect x="352.26" y="83.87" width="8.23" height="5.52" fill="#f1bb1a"/>
<rect x="359.89" y="83.87" width="4.42" height="5.52" fill="#fc9414"/>
<rect x="363.70" y="83.87" width="4.42" height="5.52" fill="#e5d621"/>
<rect x="405.67" y="83.87" width="4.42" height="5.52" fill="#287e92"/>
<rect x="409.49" y="83.87" width="15.86" height="5.52" fill="#316979"/>
<rect x="424.75" y="83.87" width="15.86" height="5.52" fill="#355f6d"/>
<rect x="440.00" y="83.87" width="4.42" height="5.52" fill="#3d4e58"/>
<rect x="443.82" y="83.87" width="19.68" height="5.52" fill="#443e44"/>
<rect x="348.44" y="88.80" width="4.42" height="5.52" fill="#a91200"/>
<rect x="352.26" y="88.80" width="4.42" height="5.52" fill="#e5d621"/>
<rect x="356.07" y="88.80" width="8.23" height="5.52" fill="#86c55f"/>
<rect x="363.70" y="88.80" width="4.42" height="5.52" fill="#dad926"/>
<rect x="367.52" y="88.80" width="4.42" height="5.52" fill="#e04f0c"/>
<rect x="401.86" y="88.80" width="4.42" height="5.52" fill="#abd046"/>
<rect x="405.67" y="88.80" width="4.42" height="5.52" fill="#287e92"/>
<rect x="409.49" y="88.80" width="4.42" height="5.52" fill="#316979"/>
<rect x="413.30" y="88.80" width="12.04" height="5.52" fill="#355f6d"/>
<rect x="424.75" y="88.80" width="8.23" height="5.52" fill="#395662"/>
<rect x="432.38" y="88.80" width="4.42" height="5.52" fill="#3d4e58"/>
<rect x="436.19" y="88.80" width="4.42" height="5.52" fill="#395662"/>
<rect x="440.00" y="88.80" width="4.42" height="5.52" fill="#3d4e58"/>
<rect x="443.82" y="88.80" width="15.86" height="5.52" fill="#443e44"/>
<rect x="356.07" y="93.73" width="4.42" height="5.52" fill="#52ad85"/>
<rect x="394.23" y="93.73" width="4.42" height="5.52" fill="#af1601"/>
<rect x="398.04" y="93.73" width="4.42" height="5.52" fill="#fc9414"/>
<rect x="401.86" y="93.73" width="4.42" height="5.52" fill="#1f93ab"/>
<rect x="405.67" y="93.73" width="4.42" height="5.52" fill="#2c7486"/>
<rect x="409.49" y="93.73" width="4.42" height="5.52" fill="#316979"/>
<rect x="413.30" y="93.73" width="12.04" height="5.52" fill="#395662"/>
<rect x="424.75" y="93.73" width="8.23" height="5.52" fill="#3d4e58"/>
<rect x="432.38" y="93.73" width="4.42" height="5.52" fill="#41454d"/>
<rect x="436.19" y="93.73" width="19.68" height="5.52" fill="#443e44"/>
<rect x="359.89" y="98.65" width="4.42" height="5.52" fill="#1f93ab"/>
<rect x="363.70" y="98.65" width="4.42" height="5.52" fill="#74bf6c"/>
<rect x="367.52" y="98.65" width="4.42" height="5.52" fill="#abd046"/>
<rect x="371.33" y="98.65" width="4.42" height="5.52" fill="#dad926"/>
<rect x="375.15" y="98.65" width="8.23" height="5.52" fill="#be2303"/>
<rect x="390.41" y="98.65" width="4.42" height="5.52" fill="#fc9414"/>
<rect x="394.23" y="98.65" width="4.42" height="5.52" fill="#bdd639"/>
<rect x="398.04" y="98.65" width="4.42" height="5.52" fill="#52ad85"/>
<rect x="401.86" y="98.65" width="4.42" height="5.52" fill="#23899f"/>
<rect x="405.67" y="98.65" width="4.42" height="5.52" fill="#2c7486"/>
<rect x="409.49" y="98.65" width="4.42" height="5.52" fill="#316979"/>
<rect x="413.30" y="98.65" width="12.04" height="5.52" fill="#395662"/>
<rect x="424.75" y="98.65" width="4.42" height="5.52" fill="#3d4e58"/>
<rect x="428.56" y="98.65" width="4.42" height="5.52" fill="#41454d"/>
<rect x="432.38" y="98.65" width="23.49" height="5.52" fill="#443e44"/>
<rect x="359.89" y="103.58" width="4.42" height="5.52" fill="#1f93ab"/>
<rect x="363.70" y="103.58" width="4.42" height="5.52" fill="#74bf6c"/>
<rect x="367.52" y="103.58" width="4.42" height="5.52" fill="#dad926"/>
<rect x="371.33" y="103.58" width="4.42" height="5.52" fill="#f4b118"/>
<rect x="375.15" y="103.58" width="4.42" height="5.52" fill="#e5d621"/>
<rect x="378.96" y="103.58" width="4.42" height="5.52" fill="#dad926"/>
<rect x="390.41" y="103.58" width="4.42" height="5.52" fill="#f1bb1a"/>
<rect x="394.23" y="103.58" width="4.42" height="5.52" fill="#dad926"/>
<rect x="398.04" y="103.58" width="4.42" height="5.52" fill="#74bf6c"/>
<rect x="401.86" y="103.58" width="4.42" height="5.52" fill="#1f93ab"/>
<rect x="405.67" y="103.58" width="4.42" height="5.52" fill="#287e92"/>
<rect x="409.49" y="103.58" width="4.42" height="5.52" fill="#2c7486"/>
<rect x="413.30" y="103.58" width="4.42" height="5.52" fill="#355f6d"/>
<rect x="417.12" y="103.58" width="8.23" height="5.52" fill="#3d4e58"/>
<rect x="424.75" y="103.58" width="4.42" height="5.52" fill="#41454d"/>
<rect x="428.56" y="103.58" width="23.49" height="5.52" fill="#443e44"/>
<rect x="359.89" y="108.50" width="8.23" height="5.52" fill="#1f93ab"/>
<rect x="367.52" y="108.50" width="4.42" height="5.52" fill="#41a592"/>
<rect x="371.33" y="108.50" width="4.42" height="5.52" fill="#74bf6c"/>
<rect x="375.15" y="108.50" width="4.42" height="5.52" fill="#abd046"/>
<rect x="378.96" y="108.50" width="4.42" height="5.52" fill="#98cb52"/>
<rect x="382.78" y="108.50" width="4.42" height="5.52" fill="#41a592"/>
<rect x="386.59" y="108.50" width="4.42" height="5.52" fill="#1f93ab"/>
<rect x="390.41" y="108.50" width="4.42" height="5.52" fill="#309c9e"/>
<rect x="394.23" y="108.50" width="4.42" height="5.52" fill="#63b679"/>
<rect x="398.04" y="108.50" width="4.42" height="5.52" fill="#1f93ab"/>
<rect x="401.86" y="108.50" width="4.42" height="5.52" fill="#2c7486"/>
<rect x="405.67" y="108.50" width="4.42" height="5.52" fill="#316979"/>
<rect x="409.49" y="108.50" width="4.42" height="5.52" fill="#355f6d"/>
<rect x="413.30" y="108.50" width="4.42" height="5.52" fill="#3d4e58"/>
<rect x="417.12" y="108.50" width="8.23" height="5.52" fill="#444046"/>
<rect x="424.75" y="108.50" width="4.42" height="5.52" fill="#41454d"/>
<rect x="428.56" y="108.50" width="19.68" height="5.52" fill="#443e44"/>
<rect x="359.89" y="113.42" width="4.42" height="5.52" fill="#23899f"/>
<rect x="363.70" y="113.42" width="4.42" height="5.52" fill="#2c7486"/>
<rect x="367.52" y="113.42" width="4.42" height="5.52" fill="#287e92"/>
<rect x="371.33" y="113.42" width="8.23" height="5.52" fill="#23899f"/>
<rect x="378.96" y="113.42" width="4.42" height="5.52" fill="#287e92"/>
<rect x="382.78" y="113.42" width="4.42" height="5.52" fill="#2c7486"/>
<rect x="386.59" y="113.42" width="12.04" height="5.52" fill="#316979"/>
<rect x="398.04" y="113.42" width="8.23" height="5.52" fill="#355f6d"/>
<rect x="405.67" y="113.42" width="4.42" height="5.52" fill="#395662"/>
<rect x="409.49" y="113.42" width="4.42" height="5.52" fill="#3d4e58"/>
<rect x="413.30" y="113.42" width="8.23" height="5.52" fill="#41454d"/>
<rect x="420.93" y="113.42" width="8.23" height="5.52" fill="#444046"/>
<rect x="428.56" y="113.42" width="15.86" height="5.52" fill="#443e44"/>
<rect x="356.07" y="118.35" width="4.42" height="5.52" fill="#f8a316"/>
<rect x="359.89" y="118.35" width="4.42" height="5.52" fill="#bdd639"/>
<rect x="363.70" y="118.35" width="4.42" height="5.52" fill="#86c55f"/>
<rect x="367.52" y="118.35" width="4.42" height="5.52" fill="#23899f"/>
<rect x="371.33" y="118.35" width="15.86" height="5.52" fill="#316979"/>
<rect x="386.59" y="118.35" width="15.86" height="5.52" fill="#2c7486"/>
<rect x="401.86" y="118.35" width="4.42" height="5.52" fill="#355f6d"/>
<rect x="405.67" y="118.35" width="4.42" height="5.52" fill="#395662"/>
<rect x="409.49" y="118.35" width="12.04" height="5.52" fill="#3d4e58"/>
<rect x="420.93" y="118.35" width="4.42" height="5.52" fill="#41454d"/>
<rect x="424.75" y="118.35" width="4.42" height="5.52" fill="#444046"/>
<rect x="428.56" y="118.35" width="12.04" height="5.52" fill="#443e44"/>
<rect x="356.07" y="123.27" width="4.42" height="5.52" fill="#74bf6c"/>
<rect x="359.89" y="123.27" width="4.42" height="5.52" fill="#bdd639"/>
<rect x="363.70" y="123.27" width="4.42" height="5.52" fill="#dad926"/>
<rect x="367.52" y="123.27" width="4.42" height="5.52" fill="#bdd639"/>
<rect x="371.33" y="123.27" width="4.42" height="5.52" fill="#1f93ab"/>
<rect x="375.15" y="123.27" width="23.49" height="5.52" fill="#355f6d"/>
<rect x="398.04" y="123.27" width="8.23" height="5.52" fill="#316979"/>
<rect x="405.67" y="123.27" width="8.23" height="5.52" fill="#395662"/>
<rect x="413.30" y="123.27" width="8.23" height="5.52" fill="#3d4e58"/>
<rect x="420.93" y="123.27" width="4.42" height="5.52" fill="#41454d"/>
<rect x="424.75" y="123.27" width="4.42" height="5.52" fill="#444046"/>
<rect x="428.56" y="123.27" width="12.04" height="5.52" fill="#443e44"/>
<rect x="344.63" y="128.20" width="4.42" height="5.52" fill="#abd046"/>
<rect x="348.44" y="128.20" width="8.23" height="5.52" fill="#86c55f"/>
<rect x="356.07" y="128.20" width="4.42" height="5.52" fill="#dad926"/>
<rect x="359.89" y="128.20" width="4.42" height="5.52" fill="#abd046"/>
<rect x="363.70" y="128.20" width="4.42" height="5.52" fill="#dad926"/>
<rect x="367.52" y="128.20" width="4.42" height="5.52" fill="#bdd639"/>
<rect x="371.33" y="128.20" width="4.42" height="5.52" fill="#52ad85"/>
<rect x="375.15" y="128.20" width="8.23" height="5.52" fill="#3d4e58"/>
<rect x="382.78" y="128.20" width="31.12" height="5.52" fill="#395662"/>
<rect x="413.30" y="128.20" width="4.42" height="5.52" fill="#3d4e58"/>
<rect x="417.12" y="128.20" width="4.42" height="5.52" fill="#395662"/>
<rect x="420.93" y="128.20" width="4.42" height="5.52" fill="#3d4e58"/>
<rect x="424.75" y="128.20" width="4.42" height="5.52" fill="#41454d"/>
<rect x="428.56" y="128.20" width="8.23" height="5.52" fill="#443e44"/>
<rect x="340.81" y="133.12" width="4.42" height="5.52" fill="#abd046"/>
<rect x="344.63" y="133.12" width="4.42" height="5.52" fill="#f8a316"/>
<rect x="348.44" y="133.12" width="8.23" height="5.52" fill="#e5d621"/>
<rect x="356.07" y="133.12" width="4.42" height="5.52" fill="#f99e15"/>
<rect x="359.89" y="133.12" width="4.42" height="5.52" fill="#e5d621"/>
<rect x="363.70" y="133.12" width="4.42" height="5.52" fill="#bdd639"/>
<rect x="367.52" y="133.12" width="4.42" height="5.52" fill="#74bf6c"/>
<rect x="371.33" y="133.12" width="4.42" height="5.52" fill="#1f93ab"/>
<rect x="375.15" y="133.12" width="4.42" height="5.52" fill="#23899f"/>
<rect x="378.96" y="133.12" width="4.42" height="5.52" fill="#74bf6c"/>
<rect x="382.78" y="133.12" width="4.42" height="5.52" fill="#2c7486"/>
<rect x="386.59" y="133.12" width="4.42" height="5.52" fill="#395662"/>
<rect x="390.41" y="133.12" width="4.42" height="5.52" fill="#3d4e58"/>
<rect x="394.23" y="133.12" width="15.86" height="5.52" fill="#395662"/>
<rect x="409.49" y="133.12" width="4.42" height="5.52" fill="#3d4e58"/>
<rect x="413.30" y="133.12" width="8.23" height="5.52" fill="#395662"/>
<rect x="420.93" y="133.12" width="4.42" height="5.52" fill="#3d4e58"/>
<rect x="424.75" y="133.12" width="4.42" height="5.52" fill="#434148"/>
<rect x="428.56" y="133.12" width="4.42" height="5.52" fill="#443e44"/>
<rect x="337.00" y="138.05" width="4.42" height="5.52" fill="#3f4a53"/>
<rect x="340.81" y="138.05" width="4.42" height="5.52" fill="#f1bb1a"/>
<rect x="344.63" y="138.05" width="4.42" height="5.52" fill="#f8a316"/>
<rect x="348.44" y="138.05" width="8.23" height="5.52" fill="#ebcf1d"/>
<rect x="356.07" y="138.05" width="4.42" height="5.52" fill="#f1bb1a"/>
<rect x="359.89" y="138.05" width="4.42" height="5.52" fill="#ff8a12"/>
<rect x="363.70" y="138.05" width="4.42" height="5.52" fill="#fc9414"/>
<rect x="367.52" y="138.05" width="4.42" height="5.52" fill="#bdd639"/>
<rect x="371.33" y="138.05" width="4.42" height="5.52" fill="#74bf6c"/>
<rect x="375.15" y="138.05" width="4.42" height="5.52" fill="#1f93ab"/>
<rect x="378.96" y="138.05" width="4.42" height="5.52" fill="#63b679"/>
<rect x="382.78" y="138.05" width="4.42" height="5.52" fill="#dad926"/>
<rect x="386.59" y="138.05" width="4.42" height="5.52" fill="#395662"/>
<rect x="390.41" y="138.05" width="4.42" height="5.52" fill="#41454d"/>
<rect x="394.23" y="138.05" width="4.42" height="5.52" fill="#3d4e58"/>
<rect x="398.04" y="138.05" width="12.04" height="5.52" fill="#395662"/>
<rect x="409.49" y="138.05" width="4.42" height="5.52" fill="#3d4e58"/>
<rect x="413.30" y="138.05" width="8.23" height="5.52" fill="#395662"/>
<rect x="420.93" y="138.05" width="4.42" height="5.52" fill="#3d4e58"/>
<rect x="424.75" y="138.05" width="4.42" height="5.52" fill="#434148"/>
<rect x="428.56" y="138.05" width="4.42" height="5.52" fill="#443e44"/>
<rect x="337.00" y="142.97" width="12.04" height="5.52" fill="#1f93ab"/>
<rect x="348.44" y="142.97" width="4.42" height="5.52" fill="#dad926"/>
<rect x="352.26" y="142.97" width="8.23" height="5.52" fill="#f1bb1a"/>
<rect x="359.89" y="142.97" width="4.42" height="5.52" fill="#ff8a12"/>
<rect x="363.70" y="142.97" width="4.42" height="5.52" fill="#f1bb1a"/>
<rect x="367.52" y="142.97" width="4.42" height="5.52" fill="#bdd639"/>
<rect x="371.33" y="142.97" width="4.42" height="5.52" fill="#63b679"/>
<rect x="375.15" y="142.97" width="4.42" height="5.52" fill="#1f93ab"/>
<rect x="378.96" y="142.97" width="4.42" height="5.52" fill="#63b679"/>
<rect x="382.78" y="142.97" width="4.42" height="5.52" fill="#1f93ab"/>
<rect x="386.59" y="142.97" width="4.42" height="5.52" fill="#355f6d"/>
<rect x="390.41" y="142.97" width="4.42" height="5.52" fill="#3d4e58"/>
<rect x="394.23" y="142.97" width="8.23" height="5.52" fill="#395662"/>
<rect x="401.86" y="142.97" width="8.23" height="5.52" fill="#3d4e58"/>
<rect x="409.49" y="142.97" width="12.04" height="5.52" fill="#395662"/>
<rect x="420.93" y="142.97" width="4.42" height="5.52" fill="#3d4e58"/>
<rect x="424.75" y="142.97" width="4.42" height="5.52" fill="#434148"/>
<rect x="337.00" y="147.90" width="4.42" height="5.52" fill="#74bf6c"/>
<rect x="340.81" y="147.90" width="4.42" height="5.52" fill="#63b679"/>
<rect x="344.63" y="147.90" width="4.42" height="5.52" fill="#1f93ab"/>
<rect x="348.44" y="147.90" width="4.42" height="5.52" fill="#bdd639"/>
<rect x="352.26" y="147.90" width="4.42" height="5.52" fill="#e5d621"/>
<rect x="356.07" y="147.90" width="4.42" height="5.52" fill="#ebcf1d"/>
<rect x="359.89" y="147.90" width="4.42" height="5.52" fill="#f4b118"/>
<rect x="363.70" y="147.90" width="4.42" height="5.52" fill="#e5d621"/>
<rect x="367.52" y="147.90" width="4.42" height="5.52" fill="#bdd639"/>
<rect x="371.33" y="147.90" width="4.42" height="5.52" fill="#41a592"/>
<rect x="375.15" y="147.90" width="8.23" height="5.52" fill="#1f93ab"/>
<rect x="382.78" y="147.90" width="4.42" height="5.52" fill="#23899f"/>
<rect x="386.59" y="147.90" width="4.42" height="5.52" fill="#355f6d"/>
<rect x="390.41" y="147.90" width="12.04" height="5.52" fill="#395662"/>
<rect x="401.86" y="147.90" width="4.42" height="5.52" fill="#41454d"/>
<rect x="405.67" y="147.90" width="4.42" height="5.52" fill="#3d4e58"/>
<rect x="409.49" y="147.90" width="8.23" height="5.52" fill="#395662"/>
<rect x="417.12" y="147.90" width="4.42" height="5.52" fill="#3d4e58"/>
<rect x="420.93" y="147.90" width="4.42" height="5.52" fill="#41454d"/>
<rect x="424.75" y="147.90" width="4.42" height="5.52" fill="#444046"/>
<rect x="340.81" y="152.82" width="8.23" height="5.52" fill="#abd046"/>
<rect x="348.44" y="152.82" width="4.42" height="5.52" fill="#bdd639"/>
<rect x="352.26" y="152.82" width="4.42" height="5.52" fill="#cfdc2c"/>
<rect x="356.07" y="152.82" width="8.23" height="5.52" fill="#dad926"/>
<rect x="363.70" y="152.82" width="4.42" height="5.52" fill="#e5d621"/>
<rect x="367.52" y="152.82" width="4.42" height="5.52" fill="#f1bb1a"/>
<rect x="371.33" y="152.82" width="4.42" height="5.52" fill="#bdd639"/>
<rect x="375.15" y="152.82" width="4.42" height="5.52" fill="#1f93ab"/>
<rect x="378.96" y="152.82" width="4.42" height="5.52" fill="#287e92"/>
<rect x="382.78" y="152.82" width="4.42" height="5.52" fill="#316979"/>
<rect x="386.59" y="152.82" width="4.42" height="5.52" fill="#355f6d"/>
<rect x="390.41" y="152.82" width="8.23" height="5.52" fill="#395662"/>
<rect x="398.04" y="152.82" width="4.42" height="5.52" fill="#41454d"/>
<rect x="401.86" y="152.82" width="4.42" height="5.52" fill="#3d4e58"/>
<rect x="405.67" y="152.82" width="12.04" height="5.52" fill="#395662"/>
<rect x="417.12" y="152.82" width="4.42" height="5.52" fill="#3d4e58"/>
<rect x="420.93" y="152.82" width="4.42" height="5.52" fill="#434148"/>
<rect x="424.75" y="152.82" width="4.42" height="5.52" fill="#444046"/>
<rect x="348.44" y="157.75" width="4.42" height="5.52" fill="#98cb52"/>
<rect x="352.26" y="157.75" width="12.04" height="5.52" fill="#abd046"/>
<rect x="363.70" y="157.75" width="8.23" height="5.52" fill="#bdd639"/>
<rect x="371.33" y="157.75" width="4.42" height="5.52" fill="#abd046"/>
<rect x="375.15" y="157.75" width="4.42" height="5.52" fill="#1f93ab"/>
<rect x="378.96" y="157.75" width="4.42" height="5.52" fill="#2c7486"/>
<rect x="382.78" y="157.75" width="4.42" height="5.52" fill="#355f6d"/>
<rect x="386.59" y="157.75" width="8.23" height="5.52" fill="#3b525d"/>
<rect x="394.23" y="157.75" width="4.42" height="5.52" fill="#375b68"/>
<rect x="398.04" y="157.75" width="12.04" height="5.52" fill="#3b525d"/>
<rect x="409.49" y="157.75" width="4.42" height="5.52" fill="#375b68"/>
<rect x="413.30" y="157.75" width="4.42" height="5.52" fill="#355f6d"/>
<rect x="417.12" y="157.75" width="4.42" height="5.52" fill="#3d4e58"/>
<rect x="420.93" y="157.75" width="4.42" height="5.52" fill="#41454d"/>
<rect x="424.75" y="157.75" width="4.42" height="5.52" fill="#444046"/>
<rect x="363.70" y="162.67" width="4.42" height="5.52" fill="#1f93ab"/>
<rect x="367.52" y="162.67" width="4.42" height="5.52" fill="#41a592"/>
<rect x="371.33" y="162.67" width="4.42" height="5.52" fill="#1f93ab"/>
<rect x="375.15" y="162.67" width="4.42" height="5.52" fill="#23899f"/>
<rect x="378.96" y="162.67" width="4.42" height="5.52" fill="#2c7486"/>
<rect x="382.78" y="162.67" width="4.42" height="5.52" fill="#355f6d"/>
<rect x="386.59" y="162.67" width="8.23" height="5.52" fill="#3f4a53"/>
<rect x="394.23" y="162.67" width="4.42" height="5.52" fill="#3b525d"/>
<rect x="398.04" y="162.67" width="8.23" height="5.52" fill="#3f4a53"/>
<rect x="405.67" y="162.67" width="4.42" height="5.52" fill="#3b525d"/>
<rect x="409.49" y="162.67" width="4.42" height="5.52" fill="#375b68"/>
<rect x="413.30" y="162.67" width="4.42" height="5.52" fill="#355f6d"/>
<rect x="417.12" y="162.67" width="4.42" height="5.52" fill="#395662"/>
<rect x="420.93" y="162.67" width="4.42" height="5.52" fill="#434148"/>
<rect x="424.75" y="162.67" width="4.42" height="5.52" fill="#444046"/>
<rect x="428.56" y="162.67" width="4.42" height="5.52" fill="#443e44"/>
<rect x="363.70" y="167.60" width="4.42" height="5.52" fill="#23899f"/>
<rect x="367.52" y="167.60" width="4.42" height="5.52" fill="#86c55f"/>
<rect x="371.33" y="167.60" width="4.42" height="5.52" fill="#1f93ab"/>
<rect x="375.15" y="167.60" width="4.42" height="5.52" fill="#23899f"/>
<rect x="378.96" y="167.60" width="8.23" height="5.52" fill="#41a592"/>
<rect x="386.59" y="167.60" width="4.42" height="5.52" fill="#3b525d"/>
<rect x="390.41" y="167.60" width="12.04" height="5.52" fill="#434148"/>
<rect x="401.86" y="167.60" width="4.42" height="5.52" fill="#3f4a53"/>
<rect x="405.67" y="167.60" width="4.42" height="5.52" fill="#3b525d"/>
<rect x="409.49" y="167.60" width="4.42" height="5.52" fill="#2c7486"/>
<rect x="413.30" y="167.60" width="4.42" height="5.52" fill="#316979"/>
<rect x="417.12" y="167.60" width="4.42" height="5.52" fill="#395662"/>
<rect x="420.93" y="167.60" width="4.42" height="5.52" fill="#434148"/>
<rect x="424.75" y="167.60" width="4.42" height="5.52" fill="#444046"/>
<rect x="428.56" y="167.60" width="4.42" height="5.52" fill="#443e44"/>
<rect x="363.70" y="172.52" width="4.42" height="5.52" fill="#1f93ab"/>
<rect x="367.52" y="172.52" width="4.42" height="5.52" fill="#52ad85"/>
<rect x="371.33" y="172.52" width="8.23" height="5.52" fill="#1f93ab"/>
<rect x="378.96" y="172.52" width="4.42" height="5.52" fill="#63b679"/>
<rect x="382.78" y="172.52" width="4.42" height="5.52" fill="#309c9e"/>
<rect x="386.59" y="172.52" width="4.42" height="5.52" fill="#375b68"/>
<rect x="390.41" y="172.52" width="4.42" height="5.52" fill="#3f4a53"/>
<rect x="394.23" y="172.52" width="12.04" height="5.52" fill="#434148"/>
<rect x="405.67" y="172.52" width="4.42" height="5.52" fill="#3b525d"/>
<rect x="409.49" y="172.52" width="4.42" height="5.52" fill="#2c7486"/>
<rect x="413.30" y="172.52" width="4.42" height="5.52" fill="#316979"/>
<rect x="417.12" y="172.52" width="4.42" height="5.52" fill="#395662"/>
<rect x="420.93" y="172.52" width="4.42" height="5.52" fill="#434148"/>
<rect x="424.75" y="172.52" width="4.42" height="5.52" fill="#444046"/>
<rect x="428.56" y="172.52" width="8.23" height="5.52" fill="#443e44"/>
<rect x="359.89" y="177.45" width="8.23" height="5.52" fill="#52ad85"/>
<rect x="367.52" y="177.45" width="4.42" height="5.52" fill="#41a592"/>
<rect x="371.33" y="177.45" width="8.23" height="5.52" fill="#52ad85"/>
<rect x="378.96" y="177.45" width="4.42" height="5.52" fill="#1f93ab"/>
<rect x="382.78" y="177.45" width="4.42" height="5.52" fill="#287e92"/>
<rect x="386.59" y="177.45" width="4.42" height="5.52" fill="#3b525d"/>
<rect x="390.41" y="177.45" width="4.42" height="5.52" fill="#3f4a53"/>
<rect x="394.23" y="177.45" width="12.04" height="5.52" fill="#434148"/>
<rect x="405.67" y="177.45" width="4.42" height="5.52" fill="#3f4a53"/>
<rect x="409.49" y="177.45" width="4.42" height="5.52" fill="#3b525d"/>
<rect x="413.30" y="177.45" width="4.42" height="5.52" fill="#355f6d"/>
<rect x="417.12" y="177.45" width="4.42" height="5.52" fill="#395662"/>
<rect x="420.93" y="177.45" width="4.42" height="5.52" fill="#434148"/>
<rect x="424.75" y="177.45" width="4.42" height="5.52" fill="#444046"/>
<rect x="428.56" y="177.45" width="8.23" height="5.52" fill="#443e44"/>
<rect x="356.07" y="182.38" width="4.42" height="5.52" fill="#74bf6c"/>
<rect x="359.89" y="182.38" width="4.42" height="5.52" fill="#abd046"/>
<rect x="363.70" y="182.38" width="4.42" height="5.52" fill="#86c55f"/>
<rect x="367.52" y="182.38" width="4.42" height="5.52" fill="#74bf6c"/>
<rect x="371.33" y="182.38" width="4.42" height="5.52" fill="#86c55f"/>
<rect x="375.15" y="182.38" width="4.42" height="5.52" fill="#74bf6c"/>
<rect x="378.96" y="182.38" width="4.42" height="5.52" fill="#1f93ab"/>
<rect x="382.78" y="182.38" width="4.42" height="5.52" fill="#287e92"/>
<rect x="386.59" y="182.38" width="4.42" height="5.52" fill="#3b525d"/>
<rect x="390.41" y="182.38" width="8.23" height="5.52" fill="#3f4a53"/>
<rect x="398.04" y="182.38" width="4.42" height="5.52" fill="#434148"/>
<rect x="401.86" y="182.38" width="8.23" height="5.52" fill="#3f4a53"/>
<rect x="409.49" y="182.38" width="4.42" height="5.52" fill="#3b525d"/>
<rect x="413.30" y="182.38" width="8.23" height="5.52" fill="#355f6d"/>
<rect x="420.93" y="182.38" width="4.42" height="5.52" fill="#395662"/>
<rect x="424.75" y="182.38" width="4.42" height="5.52" fill="#444046"/>
<rect x="428.56" y="182.38" width="8.23" height="5.52" fill="#443e44"/>
<rect x="356.07" y="187.30" width="4.42" height="5.52" fill="#e5d621"/>
<rect x="359.89" y="187.30" width="4.42" height="5.52" fill="#fa8011"/>
<rect x="363.70" y="187.30" width="4.42" height="5.52" fill="#bdd639"/>
<rect x="367.52" y="187.30" width="8.23" height="5.52" fill="#abd046"/>
<rect x="375.15" y="187.30" width="4.42" height="5.52" fill="#74bf6c"/>
<rect x="378.96" y="187.30" width="4.42" height="5.52" fill="#52ad85"/>
<rect x="382.78" y="187.30" width="4.42" height="5.52" fill="#1f93ab"/>
<rect x="386.59" y="187.30" width="4.42" height="5.52" fill="#375b68"/>
<rect x="390.41" y="187.30" width="4.42" height="5.52" fill="#3b525d"/>
<rect x="394.23" y="187.30" width="8.23" height="5.52" fill="#3f4a53"/>
<rect x="401.86" y="187.30" width="12.04" height="5.52" fill="#3b525d"/>
<rect x="413.30" y="187.30" width="4.42" height="5.52" fill="#316979"/>
<rect x="417.12" y="187.30" width="4.42" height="5.52" fill="#355f6d"/>
<rect x="420.93" y="187.30" width="4.42" height="5.52" fill="#395662"/>
<rect x="424.75" y="187.30" width="4.42" height="5.52" fill="#434148"/>
<rect x="428.56" y="187.30" width="12.04" height="5.52" fill="#443e44"/>
<rect x="359.89" y="192.22" width="4.42" height="5.52" fill="#fa8011"/>
<rect x="363.70" y="192.22" width="4.42" height="5.52" fill="#86c55f"/>
<rect x="367.52" y="192.22" width="4.42" height="5.52" fill="#f1bb1a"/>
<rect x="371.33" y="192.22" width="8.23" height="5.52" fill="#abd046"/>
<rect x="378.96" y="192.22" width="4.42" height="5.52" fill="#63b679"/>
<rect x="382.78" y="192.22" width="4.42" height="5.52" fill="#1f93ab"/>
<rect x="386.59" y="192.22" width="4.42" height="5.52" fill="#375b68"/>
<rect x="390.41" y="192.22" width="8.23" height="5.52" fill="#3b525d"/>
<rect x="398.04" y="192.22" width="8.23" height="5.52" fill="#3f4a53"/>
<rect x="405.67" y="192.22" width="4.42" height="5.52" fill="#3b525d"/>
<rect x="409.49" y="192.22" width="4.42" height="5.52" fill="#375b68"/>
<rect x="413.30" y="192.22" width="4.42" height="5.52" fill="#2c7486"/>
<rect x="417.12" y="192.22" width="4.42" height="5.52" fill="#316979"/>
<rect x="420.93" y="192.22" width="4.42" height="5.52" fill="#355f6d"/>
<rect x="424.75" y="192.22" width="4.42" height="5.52" fill="#3d4e58"/>
<rect x="428.56" y="192.22" width="12.04" height="5.52" fill="#443e44"/>
<rect x="363.70" y="197.15" width="4.42" height="5.52" fill="#e5d621"/>
<rect x="367.52" y="197.15" width="4.42" height="5.52" fill="#be2303"/>
<rect x="371.33" y="197.15" width="4.42" height="5.52" fill="#1f93ab"/>
<rect x="375.15" y="197.15" width="4.42" height="5.52" fill="#63b679"/>
<rect x="378.96" y="197.15" width="4.42" height="5.52" fill="#52ad85"/>
<rect x="382.78" y="197.15" width="4.42" height="5.52" fill="#1f93ab"/>
<rect x="386.59" y="197.15" width="4.42" height="5.52" fill="#2c7486"/>
<rect x="390.41" y="197.15" width="8.23" height="5.52" fill="#395662"/>
<rect x="398.04" y="197.15" width="4.42" height="5.52" fill="#3d4e58"/>
<rect x="401.86" y="197.15" width="8.23" height="5.52" fill="#395662"/>
<rect x="409.49" y="197.15" width="4.42" height="5.52" fill="#355f6d"/>
<rect x="413.30" y="197.15" width="4.42" height="5.52" fill="#2c7486"/>
<rect x="417.12" y="197.15" width="4.42" height="5.52" fill="#316979"/>
<rect x="420.93" y="197.15" width="4.42" height="5.52" fill="#355f6d"/>
<rect x="424.75" y="197.15" width="4.42" height="5.52" fill="#395662"/>
<rect x="428.56" y="197.15" width="4.42" height="5.52" fill="#3d4e58"/>
<rect x="432.38" y="197.15" width="12.04" height="5.52" fill="#443e44"/>
<rect x="382.78" y="202.07" width="4.42" height="5.52" fill="#1f93ab"/>
<rect x="386.59" y="202.07" width="4.42" height="5.52" fill="#2c7486"/>
<rect x="390.41" y="202.07" width="4.42" height="5.52" fill="#395662"/>
<rect x="394.23" y="202.07" width="12.04" height="5.52" fill="#3d4e58"/>
<rect x="405.67" y="202.07" width="4.42" height="5.52" fill="#395662"/>
<rect x="409.49" y="202.07" width="4.42" height="5.52" fill="#355f6d"/>
<rect x="413.30" y="202.07" width="4.42" height="5.52" fill="#2c7486"/>
<rect x="417.12" y="202.07" width="4.42" height="5.52" fill="#316979"/>
<rect x="420.93" y="202.07" width="8.23" height="5.52" fill="#355f6d"/>
<rect x="428.56" y="202.07" width="4.42" height="5.52" fill="#395662"/>
<rect x="432.38" y="202.07" width="4.42" height="5.52" fill="#3f4a53"/>
<rect x="436.19" y="202.07" width="12.04" height="5.52" fill="#443e44"/>
<rect x="382.78" y="207.00" width="4.42" height="5.52" fill="#23899f"/>
<rect x="386.59" y="207.00" width="4.42" height="5.52" fill="#287e92"/>
<rect x="390.41" y="207.00" width="4.42" height="5.52" fill="#2c7486"/>
<rect x="394.23" y="207.00" width="12.04" height="5.52" fill="#316979"/>
<rect x="405.67" y="207.00" width="8.23" height="5.52" fill="#2c7486"/>
<rect x="413.30" y="207.00" width="8.23" height="5.52" fill="#287e92"/>
<rect x="420.93" y="207.00" width="8.23" height="5.52" fill="#2c7486"/>
<rect x="428.56" y="207.00" width="4.42" height="5.52" fill="#316979"/>
<rect x="432.38" y="207.00" width="4.42" height="5.52" fill="#355f6d"/>
<rect x="436.19" y="207.00" width="4.42" height="5.52" fill="#395662"/>
<rect x="440.00" y="207.00" width="4.42" height="5.52" fill="#41454d"/>
<rect x="443.82" y="207.00" width="15.86" height="5.52" fill="#443e44"/>
<rect x="382.78" y="211.92" width="4.42" height="5.52" fill="#abd046"/>
<rect x="386.59" y="211.92" width="4.42" height="5.52" fill="#98cb52"/>
<rect x="390.41" y="211.92" width="4.42" height="5.52" fill="#1f93ab"/>
<rect x="394.23" y="211.92" width="4.42" height="5.52" fill="#23899f"/>
<rect x="398.04" y="211.92" width="12.04" height="5.52" fill="#287e92"/>
<rect x="409.49" y="211.92" width="4.42" height="5.52" fill="#23899f"/>
<rect x="413.30" y="211.92" width="4.42" height="5.52" fill="#287e92"/>
<rect x="417.12" y="211.92" width="8.23" height="5.52" fill="#2c7486"/>
<rect x="424.75" y="211.92" width="8.23" height="5.52" fill="#287e92"/>
<rect x="432.38" y="211.92" width="4.42" height="5.52" fill="#2c7486"/>
<rect x="436.19" y="211.92" width="4.42" height="5.52" fill="#355f6d"/>
<rect x="440.00" y="211.92" width="4.42" height="5.52" fill="#3d4e58"/>
<rect x="443.82" y="211.92" width="27.30" height="5.52" fill="#443e44"/>
<rect x="378.96" y="216.85" width="4.42" height="5.52" fill="#98cb52"/>
<rect x="382.78" y="216.85" width="4.42" height="5.52" fill="#63b679"/>
<rect x="386.59" y="216.85" width="4.42" height="5.52" fill="#1f93ab"/>
<rect x="390.41" y="216.85" width="8.23" height="5.52" fill="#23899f"/>
<rect x="398.04" y="216.85" width="4.42" height="5.52" fill="#1f93ab"/>
<rect x="401.86" y="216.85" width="4.42" height="5.52" fill="#74bf6c"/>
<rect x="405.67" y="216.85" width="4.42" height="5.52" fill="#63b679"/>
<rect x="409.49" y="216.85" width="4.42" height="5.52" fill="#1f93ab"/>
<rect x="413.30" y="216.85" width="4.42" height="5.52" fill="#287e92"/>
<rect x="417.12" y="216.85" width="4.42" height="5.52" fill="#2c7486"/>
<rect x="420.93" y="216.85" width="4.42" height="5.52" fill="#316979"/>
<rect x="424.75" y="216.85" width="4.42" height="5.52" fill="#2c7486"/>
<rect x="428.56" y="216.85" width="4.42" height="5.52" fill="#23899f"/>
<rect x="432.38" y="216.85" width="4.42" height="5.52" fill="#316979"/>
<rect x="436.19" y="216.85" width="4.42" height="5.52" fill="#395662"/>
<rect x="440.00" y="216.85" width="4.42" height="5.52" fill="#41454d"/>
<rect x="443.82" y="216.85" width="27.30" height="5.52" fill="#443e44"/>
<rect x="382.78" y="221.77" width="4.42" height="5.52" fill="#41a592"/>
<rect x="386.59" y="221.77" width="4.42" height="5.52" fill="#1f93ab"/>
<rect x="390.41" y="221.77" width="4.42" height="5.52" fill="#98cb52"/>
<rect x="394.23" y="221.77" width="4.42" height="5.52" fill="#41a592"/>
<rect x="398.04" y="221.77" width="4.42" height="5.52" fill="#63b679"/>
<rect x="401.86" y="221.77" width="4.42" height="5.52" fill="#abd046"/>
<rect x="405.67" y="221.77" width="4.42" height="5.52" fill="#63b679"/>
<rect x="409.49" y="221.77" width="4.42" height="5.52" fill="#1f93ab"/>
<rect x="413.30" y="221.77" width="4.42" height="5.52" fill="#287e92"/>
<rect x="417.12" y="221.77" width="8.23" height="5.52" fill="#2c7486"/>
<rect x="424.75" y="221.77" width="8.23" height="5.52" fill="#316979"/>
<rect x="432.38" y="221.77" width="4.42" height="5.52" fill="#395662"/>
<rect x="436.19" y="221.77" width="4.42" height="5.52" fill="#3f4a53"/>
<rect x="440.00" y="221.77" width="27.30" height="5.52" fill="#443e44"/>
<rect x="375.15" y="226.70" width="8.23" height="5.52" fill="#74bf6c"/>
<rect x="382.78" y="226.70" width="4.42" height="5.52" fill="#e5d621"/>
<rect x="386.59" y="226.70" width="4.42" height="5.52" fill="#63b679"/>
<rect x="390.41" y="226.70" width="4.42" height="5.52" fill="#1f93ab"/>
<rect x="394.23" y="226.70" width="4.42" height="5.52" fill="#23899f"/>
<rect x="398.04" y="226.70" width="4.42" height="5.52" fill="#1f93ab"/>
<rect x="401.86" y="226.70" width="4.42" height="5.52" fill="#52ad85"/>
<rect x="405.67" y="226.70" width="4.42" height="5.52" fill="#1f93ab"/>
<rect x="409.49" y="226.70" width="4.42" height="5.52" fill="#287e92"/>
<rect x="413.30" y="226.70" width="8.23" height="5.52" fill="#2c7486"/>
<rect x="420.93" y="226.70" width="4.42" height="5.52" fill="#316979"/>
<rect x="424.75" y="226.70" width="4.42" height="5.52" fill="#395662"/>
<rect x="428.56" y="226.70" width="4.42" height="5.52" fill="#3d4e58"/>
<rect x="432.38" y="226.70" width="4.42" height="5.52" fill="#41454d"/>
<rect x="436.19" y="226.70" width="19.68" height="5.52" fill="#443e44"/>
<rect x="375.15" y="231.62" width="8.23" height="5.52" fill="#1f93ab"/>
<rect x="382.78" y="231.62" width="4.42" height="5.52" fill="#abd046"/>
<rect x="386.59" y="231.62" width="4.42" height="5.52" fill="#309c9e"/>
<rect x="390.41" y="231.62" width="12.04" height="5.52" fill="#2c7486"/>
<rect x="401.86" y="231.62" width="4.42" height="5.52" fill="#63b679"/>
<rect x="405.67" y="231.62" width="4.42" height="5.52" fill="#2c7486"/>
<rect x="409.49" y="231.62" width="4.42" height="5.52" fill="#355f6d"/>
<rect x="413.30" y="231.62" width="4.42" height="5.52" fill="#395662"/>
<rect x="417.12" y="231.62" width="4.42" height="5.52" fill="#3d4e58"/>
<rect x="420.93" y="231.62" width="4.42" height="5.52" fill="#3f4a53"/>
<rect x="424.75" y="231.62" width="27.30" height="5.52" fill="#443e44"/>
<rect x="375.15" y="236.55" width="8.23" height="5.52" fill="#1f93ab"/>
<rect x="382.78" y="236.55" width="4.42" height="5.52" fill="#52ad85"/>
<rect x="386.59" y="236.55" width="4.42" height="5.52" fill="#23899f"/>
<rect x="390.41" y="236.55" width="4.42" height="5.52" fill="#316979"/>
<rect x="394.23" y="236.55" width="8.23" height="5.52" fill="#355f6d"/>
<rect x="401.86" y="236.55" width="4.42" height="5.52" fill="#316979"/>
<rect x="405.67" y="236.55" width="4.42" height="5.52" fill="#355f6d"/>
<rect x="409.49" y="236.55" width="4.42" height="5.52" fill="#395662"/>
<rect x="413.30" y="236.55" width="4.42" height="5.52" fill="#3f4a53"/>
<rect x="417.12" y="236.55" width="31.12" height="5.52" fill="#443e44"/>
<rect x="375.15" y="241.47" width="4.42" height="5.52" fill="#52ad85"/>
<rect x="378.96" y="241.47" width="4.42" height="5.52" fill="#309c9e"/>
<rect x="382.78" y="241.47" width="4.42" height="5.52" fill="#287e92"/>
<rect x="386.59" y="241.47" width="4.42" height="5.52" fill="#316979"/>
<rect x="390.41" y="241.47" width="4.42" height="5.52" fill="#3d4e58"/>
<rect x="394.23" y="241.47" width="8.23" height="5.52" fill="#41454d"/>
<rect x="401.86" y="241.47" width="4.42" height="5.52" fill="#3f4a53"/>
<rect x="405.67" y="241.47" width="4.42" height="5.52" fill="#3d4e58"/>
<rect x="409.49" y="241.47" width="27.30" height="5.52" fill="#443e44"/>
<rect x="371.33" y="246.40" width="4.42" height="5.52" fill="#52ad85"/>
<rect x="375.15" y="246.40" width="4.42" height="5.52" fill="#1f93ab"/>
<rect x="378.96" y="246.40" width="4.42" height="5.52" fill="#23899f"/>
<rect x="382.78" y="246.40" width="4.42" height="5.52" fill="#316979"/>
<rect x="386.59" y="246.40" width="4.42" height="5.52" fill="#355f6d"/>
<rect x="390.41" y="246.40" width="4.42" height="5.52" fill="#3f4a53"/>
<rect x="394.23" y="246.40" width="4.42" height="5.52" fill="#443e44"/>
<rect x="398.04" y="246.40" width="4.42" height="5.52" fill="#395662"/>
<rect x="401.86" y="246.40" width="23.49" height="5.52" fill="#443e44"/>
<rect x="371.33" y="251.32" width="4.42" height="5.52" fill="#23899f"/>
<rect x="375.15" y="251.32" width="4.42" height="5.52" fill="#287e92"/>
<rect x="378.96" y="251.32" width="4.42" height="5.52" fill="#316979"/>
<rect x="382.78" y="251.32" width="8.23" height="5.52" fill="#355f6d"/>
<rect x="390.41" y="251.32" width="4.42" height="5.52" fill="#395662"/>
<rect x="394.23" y="251.32" width="4.42" height="5.52" fill="#2c7486"/>
<rect x="398.04" y="251.32" width="4.42" height="5.52" fill="#316979"/>
<rect x="401.86" y="251.32" width="4.42" height="5.52" fill="#3d4e58"/>
<rect x="405.67" y="251.32" width="15.86" height="5.52" fill="#443e44"/>
<rect x="371.33" y="256.25" width="4.42" height="5.52" fill="#316979"/>
<rect x="375.15" y="256.25" width="4.42" height="5.52" fill="#355f6d"/>
<rect x="378.96" y="256.25" width="4.42" height="5.52" fill="#3d4e58"/>
<rect x="382.78" y="256.25" width="4.42" height="5.52" fill="#395662"/>
<rect x="386.59" y="256.25" width="12.04" height="5.52" fill="#355f6d"/>
<rect x="398.04" y="256.25" width="4.42" height="5.52" fill="#3d4e58"/>
<rect x="401.86" y="256.25" width="15.86" height="5.52" fill="#443e44"/>
<rect x="378.96" y="261.17" width="8.23" height="5.52" fill="#443e44"/>
<rect x="386.59" y="261.17" width="4.42" height="5.52" fill="#3d4e58"/>
<rect x="390.41" y="261.17" width="4.42" height="5.52" fill="#395662"/>
<rect x="394.23" y="261.17" width="4.42" height="5.52" fill="#3d4e58"/>
<rect x="398.04" y="261.17" width="15.86" height="5.52" fill="#443e44"/>
<rect x="378.96" y="266.10" width="8.23" height="5.52" fill="#443e44"/>
<rect x="386.59" y="266.10" width="8.23" height="5.52" fill="#3d4e58"/>
<rect x="394.23" y="266.10" width="19.68" height="5.52" fill="#443e44"/>
<rect x="378.96" y="271.02" width="34.94" height="5.52" fill="#443e44"/>
<rect x="375.15" y="275.95" width="31.12" height="5.52" fill="#443e44"/>
<rect x="375.15" y="280.87" width="31.12" height="5.52" fill="#443e44"/>
<rect x="375.15" y="285.80" width="31.12" height="5.52" fill="#443e44"/>
<rect x="378.96" y="290.72" width="27.30" height="5.52" fill="#443e44"/>
<rect x="382.78" y="295.65" width="19.68" height="5.52" fill="#443e44"/>
<rect x="386.59" y="300.57" width="12.04" height="5.52" fill="#443e44"/>
</g>
<rect x="337.40" y="21.10" width="156.80" height="285.90" fill="none" stroke="#1a1a1a" stroke-width="1.15"/>
<line x1="339.20" y1="307.00" x2="339.20" y2="310.80" stroke="#1a1a1a" stroke-width="1.15"/>
<text x="338.30" y="322.20" text-anchor="middle" class="tk">−1.5</text>
<line x1="377.35" y1="307.00" x2="377.35" y2="310.80" stroke="#1a1a1a" stroke-width="1.15"/>
<text x="376.45" y="322.20" text-anchor="middle" class="tk">−1.0</text>
<line x1="415.50" y1="307.00" x2="415.50" y2="310.80" stroke="#1a1a1a" stroke-width="1.15"/>
<text x="414.60" y="322.20" text-anchor="middle" class="tk">−0.5</text>
<line x1="453.65" y1="307.00" x2="453.65" y2="310.80" stroke="#1a1a1a" stroke-width="1.15"/>
<text x="453.35" y="322.20" text-anchor="middle" class="tk">0.0</text>
<line x1="491.80" y1="307.00" x2="491.80" y2="310.80" stroke="#1a1a1a" stroke-width="1.15"/>
<text x="491.50" y="322.20" text-anchor="middle" class="tk">0.5</text>
<line x1="333.60" y1="47.60" x2="337.40" y2="47.60" stroke="#1a1a1a" stroke-width="1.15"/>
<text x="329.10" y="51.90" text-anchor="end" class="tk">40.5</text>
<line x1="333.60" y1="97.10" x2="337.40" y2="97.10" stroke="#1a1a1a" stroke-width="1.15"/>
<text x="329.10" y="101.40" text-anchor="end" class="tk">40.0</text>
<line x1="333.60" y1="146.55" x2="337.40" y2="146.55" stroke="#1a1a1a" stroke-width="1.15"/>
<text x="329.10" y="150.85" text-anchor="end" class="tk">39.5</text>
<line x1="333.60" y1="196.05" x2="337.40" y2="196.05" stroke="#1a1a1a" stroke-width="1.15"/>
<text x="329.10" y="200.35" text-anchor="end" class="tk">39.0</text>
<line x1="333.60" y1="245.50" x2="337.40" y2="245.50" stroke="#1a1a1a" stroke-width="1.15"/>
<text x="329.10" y="249.80" text-anchor="end" class="tk">38.5</text>
<line x1="333.60" y1="295.00" x2="337.40" y2="295.00" stroke="#1a1a1a" stroke-width="1.15"/>
<text x="329.10" y="299.30" text-anchor="end" class="tk">38.0</text>
<text x="415.40" y="14.80" text-anchor="middle" class="tt">2005 damage intensity</text>
<text x="415.30" y="337.50" text-anchor="middle" class="lb">longitude [degrees_east]</text>
<text transform="translate(299.70,165.20) rotate(-90)" text-anchor="middle" class="lb">latitude [degrees_north]</text>
<rect x="505.40" y="21.10" width="13.90" height="285.90" fill="url(#cb)" stroke="#1a1a1a" stroke-width="0.9"/>
<line x1="519.30" y1="307.00" x2="523.10" y2="307.00" stroke="#1a1a1a" stroke-width="1.15"/>
<text x="526.80" y="311.80" class="tk">0</text>
<line x1="519.30" y1="254.48" x2="523.10" y2="254.48" stroke="#1a1a1a" stroke-width="1.15"/>
<text x="526.80" y="259.28" class="tk">20</text>
<line x1="519.30" y1="201.96" x2="523.10" y2="201.96" stroke="#1a1a1a" stroke-width="1.15"/>
<text x="526.80" y="206.76" class="tk">40</text>
<line x1="519.30" y1="149.44" x2="523.10" y2="149.44" stroke="#1a1a1a" stroke-width="1.15"/>
<text x="526.80" y="154.24" class="tk">60</text>
<line x1="519.30" y1="96.92" x2="523.10" y2="96.92" stroke="#1a1a1a" stroke-width="1.15"/>
<text x="526.80" y="101.72" class="tk">80</text>
<line x1="519.30" y1="44.40" x2="523.10" y2="44.40" stroke="#1a1a1a" stroke-width="1.15"/>
<text x="526.80" y="49.20" class="tk">100</text>
</svg>
</body></html>
